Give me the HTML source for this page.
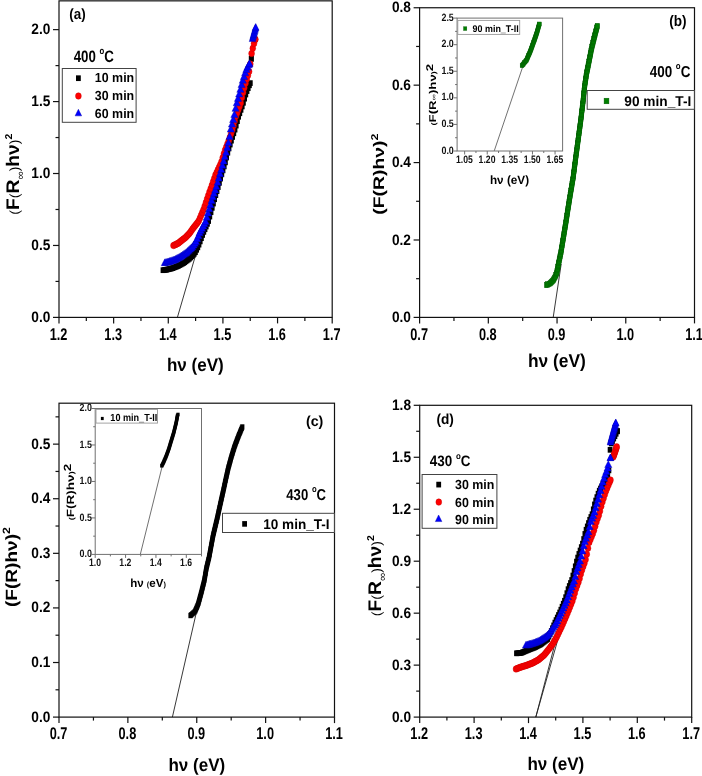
<!DOCTYPE html><html><head><meta charset="utf-8"><title>Tauc plots</title><style>html,body{margin:0;padding:0;background:#fff;}svg{display:block;will-change:transform;}text{font-family:"Liberation Sans",sans-serif;text-rendering:geometricPrecision;}</style></head><body>
<svg width="702" height="776" viewBox="0 0 702 776">
<rect width="702" height="776" fill="#fff"/>
<line x1="177.4" y1="317.4" x2="200" y2="240" stroke="#222" stroke-width="0.9" />
<g><rect x="160.6" y="267.35" width="4.8" height="5.7" fill="#000"/><rect x="161.8" y="267.18" width="4.8" height="5.7" fill="#000"/><rect x="163" y="267.01" width="4.8" height="5.7" fill="#000"/><rect x="164.2" y="266.83" width="4.8" height="5.7" fill="#000"/><rect x="165.4" y="266.53" width="4.8" height="5.7" fill="#000"/><rect x="166.6" y="266.24" width="4.8" height="5.7" fill="#000"/><rect x="167.8" y="265.94" width="4.8" height="5.7" fill="#000"/><rect x="169" y="265.65" width="4.8" height="5.7" fill="#000"/><rect x="170.2" y="265.29" width="4.8" height="5.7" fill="#000"/><rect x="171.4" y="264.82" width="4.8" height="5.7" fill="#000"/><rect x="172.6" y="264.34" width="4.8" height="5.7" fill="#000"/><rect x="173.8" y="263.86" width="4.8" height="5.7" fill="#000"/><rect x="175" y="263.39" width="4.8" height="5.7" fill="#000"/><rect x="176.2" y="262.83" width="4.8" height="5.7" fill="#000"/><rect x="177.4" y="262.19" width="4.8" height="5.7" fill="#000"/><rect x="178.6" y="261.54" width="4.8" height="5.7" fill="#000"/><rect x="179.8" y="260.9" width="4.8" height="5.7" fill="#000"/><rect x="181" y="260.26" width="4.8" height="5.7" fill="#000"/><rect x="182.2" y="259.41" width="4.8" height="5.7" fill="#000"/><rect x="183.4" y="258.53" width="4.8" height="5.7" fill="#000"/><rect x="184.6" y="257.64" width="4.8" height="5.7" fill="#000"/><rect x="185.8" y="256.76" width="4.8" height="5.7" fill="#000"/><rect x="187" y="255.85" width="4.8" height="5.7" fill="#000"/><rect x="188.2" y="254.63" width="4.8" height="5.7" fill="#000"/><rect x="189.4" y="253.41" width="4.8" height="5.7" fill="#000"/><rect x="190.6" y="252.19" width="4.8" height="5.7" fill="#000"/><rect x="191.8" y="250.96" width="4.8" height="5.7" fill="#000"/><rect x="193" y="249.35" width="4.8" height="5.7" fill="#000"/><rect x="194.2" y="246.95" width="4.8" height="5.7" fill="#000"/><rect x="195.4" y="244.55" width="4.8" height="5.7" fill="#000"/><rect x="196.6" y="241.8" width="4.8" height="5.7" fill="#000"/><rect x="197.8" y="238.57" width="4.8" height="5.7" fill="#000"/><rect x="199" y="235.34" width="4.8" height="5.7" fill="#000"/><rect x="200.2" y="232.11" width="4.8" height="5.7" fill="#000"/><rect x="201.4" y="229.06" width="4.8" height="5.7" fill="#000"/><rect x="202.6" y="226.37" width="4.8" height="5.7" fill="#000"/><rect x="203.8" y="223.69" width="4.8" height="5.7" fill="#000"/><rect x="205" y="221.01" width="4.8" height="5.7" fill="#000"/><rect x="206.2" y="218.18" width="4.8" height="5.7" fill="#000"/><rect x="207.4" y="213.77" width="4.8" height="5.7" fill="#000"/><rect x="208.6" y="209.36" width="4.8" height="5.7" fill="#000"/><rect x="209.8" y="205" width="4.8" height="5.7" fill="#000"/><rect x="211" y="200.69" width="4.8" height="5.7" fill="#000"/><rect x="212.2" y="196.39" width="4.8" height="5.7" fill="#000"/><rect x="213.4" y="192.27" width="4.8" height="5.7" fill="#000"/><rect x="214.6" y="188.24" width="4.8" height="5.7" fill="#000"/><rect x="215.8" y="184.22" width="4.8" height="5.7" fill="#000"/><rect x="217" y="179.99" width="4.8" height="5.7" fill="#000"/><rect x="218.2" y="175.71" width="4.8" height="5.7" fill="#000"/><rect x="219.4" y="171.49" width="4.8" height="5.7" fill="#000"/><rect x="220.6" y="167.53" width="4.8" height="5.7" fill="#000"/><rect x="221.8" y="163.58" width="4.8" height="5.7" fill="#000"/><rect x="223" y="159.54" width="4.8" height="5.7" fill="#000"/><rect x="224.2" y="154.66" width="4.8" height="5.7" fill="#000"/><rect x="225.4" y="149.77" width="4.8" height="5.7" fill="#000"/><rect x="226.6" y="145.62" width="4.8" height="5.7" fill="#000"/><rect x="227.8" y="141.71" width="4.8" height="5.7" fill="#000"/><rect x="229" y="137.8" width="4.8" height="5.7" fill="#000"/><rect x="230.2" y="134.1" width="4.8" height="5.7" fill="#000"/><rect x="231.4" y="130.44" width="4.8" height="5.7" fill="#000"/><rect x="232.6" y="126.78" width="4.8" height="5.7" fill="#000"/><rect x="233.8" y="122.74" width="4.8" height="5.7" fill="#000"/><rect x="235" y="118.33" width="4.8" height="5.7" fill="#000"/><rect x="236.2" y="113.92" width="4.8" height="5.7" fill="#000"/><rect x="237.4" y="110.43" width="4.8" height="5.7" fill="#000"/><rect x="238.6" y="107.02" width="4.8" height="5.7" fill="#000"/><rect x="239.8" y="103.62" width="4.8" height="5.7" fill="#000"/><rect x="241" y="99.97" width="4.8" height="5.7" fill="#000"/><rect x="242.2" y="95.82" width="4.8" height="5.7" fill="#000"/><rect x="243.4" y="91.68" width="4.8" height="5.7" fill="#000"/><rect x="244.6" y="88.25" width="4.8" height="5.7" fill="#000"/><rect x="245.8" y="85.34" width="4.8" height="5.7" fill="#000"/><rect x="247" y="82.43" width="4.8" height="5.7" fill="#000"/><rect x="247.9" y="80.25" width="4.8" height="5.7" fill="#000"/></g>
<g><rect x="248.9" y="55.95" width="4.8" height="5.7" fill="#000"/><rect x="248.9" y="55.85" width="4.8" height="5.7" fill="#000"/></g>
<g><ellipse cx="173.5" cy="245.5" rx="2.9" ry="3.25" fill="#f00" stroke="#c80000" stroke-width="0.45"/><ellipse cx="174.7" cy="244.94" rx="2.9" ry="3.25" fill="#f00" stroke="#c80000" stroke-width="0.45"/><ellipse cx="175.9" cy="244.38" rx="2.9" ry="3.25" fill="#f00" stroke="#c80000" stroke-width="0.45"/><ellipse cx="177.1" cy="243.82" rx="2.9" ry="3.25" fill="#f00" stroke="#c80000" stroke-width="0.45"/><ellipse cx="178.3" cy="243.16" rx="2.9" ry="3.25" fill="#f00" stroke="#c80000" stroke-width="0.45"/><ellipse cx="179.5" cy="242.2" rx="2.9" ry="3.25" fill="#f00" stroke="#c80000" stroke-width="0.45"/><ellipse cx="180.7" cy="241.24" rx="2.9" ry="3.25" fill="#f00" stroke="#c80000" stroke-width="0.45"/><ellipse cx="181.9" cy="240.3" rx="2.9" ry="3.25" fill="#f00" stroke="#c80000" stroke-width="0.45"/><ellipse cx="183.1" cy="239.37" rx="2.9" ry="3.25" fill="#f00" stroke="#c80000" stroke-width="0.45"/><ellipse cx="184.3" cy="238.43" rx="2.9" ry="3.25" fill="#f00" stroke="#c80000" stroke-width="0.45"/><ellipse cx="185.5" cy="237.5" rx="2.9" ry="3.25" fill="#f00" stroke="#c80000" stroke-width="0.45"/><ellipse cx="186.7" cy="236.25" rx="2.9" ry="3.25" fill="#f00" stroke="#c80000" stroke-width="0.45"/><ellipse cx="187.9" cy="234.99" rx="2.9" ry="3.25" fill="#f00" stroke="#c80000" stroke-width="0.45"/><ellipse cx="189.1" cy="233.74" rx="2.9" ry="3.25" fill="#f00" stroke="#c80000" stroke-width="0.45"/><ellipse cx="190.3" cy="232.34" rx="2.9" ry="3.25" fill="#f00" stroke="#c80000" stroke-width="0.45"/><ellipse cx="191.5" cy="230.52" rx="2.9" ry="3.25" fill="#f00" stroke="#c80000" stroke-width="0.45"/><ellipse cx="192.7" cy="228.75" rx="2.9" ry="3.25" fill="#f00" stroke="#c80000" stroke-width="0.45"/><ellipse cx="193.9" cy="227.23" rx="2.9" ry="3.25" fill="#f00" stroke="#c80000" stroke-width="0.45"/><ellipse cx="195.1" cy="225.71" rx="2.9" ry="3.25" fill="#f00" stroke="#c80000" stroke-width="0.45"/><ellipse cx="196.3" cy="224.19" rx="2.9" ry="3.25" fill="#f00" stroke="#c80000" stroke-width="0.45"/><ellipse cx="197.5" cy="222.67" rx="2.9" ry="3.25" fill="#f00" stroke="#c80000" stroke-width="0.45"/><ellipse cx="198.7" cy="220.93" rx="2.9" ry="3.25" fill="#f00" stroke="#c80000" stroke-width="0.45"/><ellipse cx="199.9" cy="218.14" rx="2.9" ry="3.25" fill="#f00" stroke="#c80000" stroke-width="0.45"/><ellipse cx="201.1" cy="215.35" rx="2.9" ry="3.25" fill="#f00" stroke="#c80000" stroke-width="0.45"/><ellipse cx="202.3" cy="212.56" rx="2.9" ry="3.25" fill="#f00" stroke="#c80000" stroke-width="0.45"/><ellipse cx="203.5" cy="209.7" rx="2.9" ry="3.25" fill="#f00" stroke="#c80000" stroke-width="0.45"/><ellipse cx="204.7" cy="206.13" rx="2.9" ry="3.25" fill="#f00" stroke="#c80000" stroke-width="0.45"/><ellipse cx="205.9" cy="202.56" rx="2.9" ry="3.25" fill="#f00" stroke="#c80000" stroke-width="0.45"/><ellipse cx="207.1" cy="198.99" rx="2.9" ry="3.25" fill="#f00" stroke="#c80000" stroke-width="0.45"/><ellipse cx="208.3" cy="195.52" rx="2.9" ry="3.25" fill="#f00" stroke="#c80000" stroke-width="0.45"/><ellipse cx="209.5" cy="192.1" rx="2.9" ry="3.25" fill="#f00" stroke="#c80000" stroke-width="0.45"/><ellipse cx="210.7" cy="188.68" rx="2.9" ry="3.25" fill="#f00" stroke="#c80000" stroke-width="0.45"/><ellipse cx="211.9" cy="185.26" rx="2.9" ry="3.25" fill="#f00" stroke="#c80000" stroke-width="0.45"/><ellipse cx="213.1" cy="181.84" rx="2.9" ry="3.25" fill="#f00" stroke="#c80000" stroke-width="0.45"/><ellipse cx="214.3" cy="178.42" rx="2.9" ry="3.25" fill="#f00" stroke="#c80000" stroke-width="0.45"/><ellipse cx="215.5" cy="175" rx="2.9" ry="3.25" fill="#f00" stroke="#c80000" stroke-width="0.45"/><ellipse cx="216.7" cy="172.43" rx="2.9" ry="3.25" fill="#f00" stroke="#c80000" stroke-width="0.45"/><ellipse cx="217.9" cy="169.86" rx="2.9" ry="3.25" fill="#f00" stroke="#c80000" stroke-width="0.45"/><ellipse cx="219.1" cy="167.29" rx="2.9" ry="3.25" fill="#f00" stroke="#c80000" stroke-width="0.45"/><ellipse cx="220.3" cy="164.73" rx="2.9" ry="3.25" fill="#f00" stroke="#c80000" stroke-width="0.45"/><ellipse cx="221.5" cy="161.79" rx="2.9" ry="3.25" fill="#f00" stroke="#c80000" stroke-width="0.45"/><ellipse cx="222.7" cy="157.77" rx="2.9" ry="3.25" fill="#f00" stroke="#c80000" stroke-width="0.45"/><ellipse cx="223.9" cy="153.75" rx="2.9" ry="3.25" fill="#f00" stroke="#c80000" stroke-width="0.45"/><ellipse cx="225.1" cy="150.1" rx="2.9" ry="3.25" fill="#f00" stroke="#c80000" stroke-width="0.45"/><ellipse cx="226.3" cy="147" rx="2.9" ry="3.25" fill="#f00" stroke="#c80000" stroke-width="0.45"/><ellipse cx="227.5" cy="143.89" rx="2.9" ry="3.25" fill="#f00" stroke="#c80000" stroke-width="0.45"/><ellipse cx="228.7" cy="140.78" rx="2.9" ry="3.25" fill="#f00" stroke="#c80000" stroke-width="0.45"/><ellipse cx="229.9" cy="137.25" rx="2.9" ry="3.25" fill="#f00" stroke="#c80000" stroke-width="0.45"/><ellipse cx="231.1" cy="133.6" rx="2.9" ry="3.25" fill="#f00" stroke="#c80000" stroke-width="0.45"/><ellipse cx="232.3" cy="129.93" rx="2.9" ry="3.25" fill="#f00" stroke="#c80000" stroke-width="0.45"/><ellipse cx="233.5" cy="125.76" rx="2.9" ry="3.25" fill="#f00" stroke="#c80000" stroke-width="0.45"/><ellipse cx="234.7" cy="120.88" rx="2.9" ry="3.25" fill="#f00" stroke="#c80000" stroke-width="0.45"/><ellipse cx="235.9" cy="116.13" rx="2.9" ry="3.25" fill="#f00" stroke="#c80000" stroke-width="0.45"/><ellipse cx="237.1" cy="112.95" rx="2.9" ry="3.25" fill="#f00" stroke="#c80000" stroke-width="0.45"/><ellipse cx="238.3" cy="109.77" rx="2.9" ry="3.25" fill="#f00" stroke="#c80000" stroke-width="0.45"/><ellipse cx="239.5" cy="106.59" rx="2.9" ry="3.25" fill="#f00" stroke="#c80000" stroke-width="0.45"/><ellipse cx="240.7" cy="102.88" rx="2.9" ry="3.25" fill="#f00" stroke="#c80000" stroke-width="0.45"/><ellipse cx="241.9" cy="97.62" rx="2.9" ry="3.25" fill="#f00" stroke="#c80000" stroke-width="0.45"/><ellipse cx="243.1" cy="92.42" rx="2.9" ry="3.25" fill="#f00" stroke="#c80000" stroke-width="0.45"/><ellipse cx="244.3" cy="87.86" rx="2.9" ry="3.25" fill="#f00" stroke="#c80000" stroke-width="0.45"/><ellipse cx="245.5" cy="83.3" rx="2.9" ry="3.25" fill="#f00" stroke="#c80000" stroke-width="0.45"/><ellipse cx="246.7" cy="79.18" rx="2.9" ry="3.25" fill="#f00" stroke="#c80000" stroke-width="0.45"/><ellipse cx="247.9" cy="75.38" rx="2.9" ry="3.25" fill="#f00" stroke="#c80000" stroke-width="0.45"/><ellipse cx="249.1" cy="71.58" rx="2.9" ry="3.25" fill="#f00" stroke="#c80000" stroke-width="0.45"/><ellipse cx="250.3" cy="64" rx="2.9" ry="3.25" fill="#f00" stroke="#c80000" stroke-width="0.45"/></g>
<g><ellipse cx="251.6" cy="53.5" rx="2.9" ry="3.25" fill="#f00" stroke="#c80000" stroke-width="0.45"/><ellipse cx="252.8" cy="48.34" rx="2.9" ry="3.25" fill="#f00" stroke="#c80000" stroke-width="0.45"/><ellipse cx="254" cy="43.58" rx="2.9" ry="3.25" fill="#f00" stroke="#c80000" stroke-width="0.45"/><ellipse cx="255.2" cy="39.63" rx="2.9" ry="3.25" fill="#f00" stroke="#c80000" stroke-width="0.45"/><ellipse cx="255.3" cy="39.3" rx="2.9" ry="3.25" fill="#f00" stroke="#c80000" stroke-width="0.45"/></g>
<g><path d="M164.8 258.86L168.35 265.66L161.25 265.66Z" fill="#00f" stroke="#0000b4" stroke-width="0.45"/><path d="M166 258.55L169.55 265.35L162.45 265.35Z" fill="#00f" stroke="#0000b4" stroke-width="0.45"/><path d="M167.2 258.23L170.75 265.03L163.65 265.03Z" fill="#00f" stroke="#0000b4" stroke-width="0.45"/><path d="M168.4 257.92L171.95 264.72L164.85 264.72Z" fill="#00f" stroke="#0000b4" stroke-width="0.45"/><path d="M169.6 257.59L173.15 264.39L166.05 264.39Z" fill="#00f" stroke="#0000b4" stroke-width="0.45"/><path d="M170.8 257.17L174.35 263.97L167.25 263.97Z" fill="#00f" stroke="#0000b4" stroke-width="0.45"/><path d="M172 256.75L175.55 263.55L168.45 263.55Z" fill="#00f" stroke="#0000b4" stroke-width="0.45"/><path d="M173.2 256.33L176.75 263.13L169.65 263.13Z" fill="#00f" stroke="#0000b4" stroke-width="0.45"/><path d="M174.4 255.91L177.95 262.71L170.85 262.71Z" fill="#00f" stroke="#0000b4" stroke-width="0.45"/><path d="M175.6 255.39L179.15 262.19L172.05 262.19Z" fill="#00f" stroke="#0000b4" stroke-width="0.45"/><path d="M176.8 254.74L180.35 261.54L173.25 261.54Z" fill="#00f" stroke="#0000b4" stroke-width="0.45"/><path d="M178 254.08L181.55 260.88L174.45 260.88Z" fill="#00f" stroke="#0000b4" stroke-width="0.45"/><path d="M179.2 253.43L182.75 260.23L175.65 260.23Z" fill="#00f" stroke="#0000b4" stroke-width="0.45"/><path d="M180.4 252.78L183.95 259.58L176.85 259.58Z" fill="#00f" stroke="#0000b4" stroke-width="0.45"/><path d="M181.6 252L185.15 258.8L178.05 258.8Z" fill="#00f" stroke="#0000b4" stroke-width="0.45"/><path d="M182.8 251.16L186.35 257.96L179.25 257.96Z" fill="#00f" stroke="#0000b4" stroke-width="0.45"/><path d="M184 250.31L187.55 257.11L180.45 257.11Z" fill="#00f" stroke="#0000b4" stroke-width="0.45"/><path d="M185.2 249.47L188.75 256.27L181.65 256.27Z" fill="#00f" stroke="#0000b4" stroke-width="0.45"/><path d="M186.4 248.63L189.95 255.43L182.85 255.43Z" fill="#00f" stroke="#0000b4" stroke-width="0.45"/><path d="M187.6 247.52L191.15 254.32L184.05 254.32Z" fill="#00f" stroke="#0000b4" stroke-width="0.45"/><path d="M188.8 246.38L192.35 253.18L185.25 253.18Z" fill="#00f" stroke="#0000b4" stroke-width="0.45"/><path d="M190 245.24L193.55 252.04L186.45 252.04Z" fill="#00f" stroke="#0000b4" stroke-width="0.45"/><path d="M191.2 244.11L194.75 250.91L187.65 250.91Z" fill="#00f" stroke="#0000b4" stroke-width="0.45"/><path d="M192.4 242.88L195.95 249.68L188.85 249.68Z" fill="#00f" stroke="#0000b4" stroke-width="0.45"/><path d="M193.6 241.17L197.15 247.97L190.05 247.97Z" fill="#00f" stroke="#0000b4" stroke-width="0.45"/><path d="M194.8 239.47L198.35 246.27L191.25 246.27Z" fill="#00f" stroke="#0000b4" stroke-width="0.45"/><path d="M196 237.76L199.55 244.56L192.45 244.56Z" fill="#00f" stroke="#0000b4" stroke-width="0.45"/><path d="M197.2 234.86L200.75 241.66L193.65 241.66Z" fill="#00f" stroke="#0000b4" stroke-width="0.45"/><path d="M198.4 231.96L201.95 238.76L194.85 238.76Z" fill="#00f" stroke="#0000b4" stroke-width="0.45"/><path d="M199.6 229.06L203.15 235.86L196.05 235.86Z" fill="#00f" stroke="#0000b4" stroke-width="0.45"/><path d="M200.8 226.78L204.35 233.58L197.25 233.58Z" fill="#00f" stroke="#0000b4" stroke-width="0.45"/><path d="M202 224.5L205.55 231.3L198.45 231.3Z" fill="#00f" stroke="#0000b4" stroke-width="0.45"/><path d="M203.2 222.22L206.75 229.02L199.65 229.02Z" fill="#00f" stroke="#0000b4" stroke-width="0.45"/><path d="M204.4 219.94L207.95 226.74L200.85 226.74Z" fill="#00f" stroke="#0000b4" stroke-width="0.45"/><path d="M205.6 217.66L209.15 224.46L202.05 224.46Z" fill="#00f" stroke="#0000b4" stroke-width="0.45"/><path d="M206.8 213.38L210.35 220.18L203.25 220.18Z" fill="#00f" stroke="#0000b4" stroke-width="0.45"/><path d="M208 209.11L211.55 215.91L204.45 215.91Z" fill="#00f" stroke="#0000b4" stroke-width="0.45"/><path d="M209.2 204.9L212.75 211.7L205.65 211.7Z" fill="#00f" stroke="#0000b4" stroke-width="0.45"/><path d="M210.4 200.84L213.95 207.64L206.85 207.64Z" fill="#00f" stroke="#0000b4" stroke-width="0.45"/><path d="M211.6 196.77L215.15 203.57L208.05 203.57Z" fill="#00f" stroke="#0000b4" stroke-width="0.45"/><path d="M212.8 192.92L216.35 199.72L209.25 199.72Z" fill="#00f" stroke="#0000b4" stroke-width="0.45"/><path d="M214 189.5L217.55 196.3L210.45 196.3Z" fill="#00f" stroke="#0000b4" stroke-width="0.45"/><path d="M215.2 186.08L218.75 192.88L211.65 192.88Z" fill="#00f" stroke="#0000b4" stroke-width="0.45"/><path d="M216.4 182.66L219.95 189.46L212.85 189.46Z" fill="#00f" stroke="#0000b4" stroke-width="0.45"/><path d="M217.6 178.38L221.15 185.18L214.05 185.18Z" fill="#00f" stroke="#0000b4" stroke-width="0.45"/><path d="M218.8 174.11L222.35 180.91L215.25 180.91Z" fill="#00f" stroke="#0000b4" stroke-width="0.45"/><path d="M220 169.87L223.55 176.67L216.45 176.67Z" fill="#00f" stroke="#0000b4" stroke-width="0.45"/><path d="M221.2 165.68L224.75 172.48L217.65 172.48Z" fill="#00f" stroke="#0000b4" stroke-width="0.45"/><path d="M222.4 161.5L225.95 168.3L218.85 168.3Z" fill="#00f" stroke="#0000b4" stroke-width="0.45"/><path d="M223.6 157.22L227.15 164.02L220.05 164.02Z" fill="#00f" stroke="#0000b4" stroke-width="0.45"/><path d="M224.8 152.81L228.35 159.61L221.25 159.61Z" fill="#00f" stroke="#0000b4" stroke-width="0.45"/><path d="M226 148.4L229.55 155.2L222.45 155.2Z" fill="#00f" stroke="#0000b4" stroke-width="0.45"/><path d="M227.2 143.59L230.75 150.39L223.65 150.39Z" fill="#00f" stroke="#0000b4" stroke-width="0.45"/><path d="M228.4 138.7L231.95 145.5L224.85 145.5Z" fill="#00f" stroke="#0000b4" stroke-width="0.45"/><path d="M229.6 132.6L233.15 139.4L226.05 139.4Z" fill="#00f" stroke="#0000b4" stroke-width="0.45"/><path d="M230.8 125.28L234.35 132.08L227.25 132.08Z" fill="#00f" stroke="#0000b4" stroke-width="0.45"/><path d="M232 120.26L235.55 127.06L228.45 127.06Z" fill="#00f" stroke="#0000b4" stroke-width="0.45"/><path d="M233.2 115.7L236.75 122.5L229.65 122.5Z" fill="#00f" stroke="#0000b4" stroke-width="0.45"/><path d="M234.4 110.63L237.95 117.43L230.85 117.43Z" fill="#00f" stroke="#0000b4" stroke-width="0.45"/><path d="M235.6 104.53L239.15 111.33L232.05 111.33Z" fill="#00f" stroke="#0000b4" stroke-width="0.45"/><path d="M236.8 98.99L240.35 105.79L233.25 105.79Z" fill="#00f" stroke="#0000b4" stroke-width="0.45"/><path d="M238 94.58L241.55 101.38L234.45 101.38Z" fill="#00f" stroke="#0000b4" stroke-width="0.45"/><path d="M239.2 90.16L242.75 96.96L235.65 96.96Z" fill="#00f" stroke="#0000b4" stroke-width="0.45"/><path d="M240.4 85.52L243.95 92.32L236.85 92.32Z" fill="#00f" stroke="#0000b4" stroke-width="0.45"/><path d="M241.6 80.8L245.15 87.6L238.05 87.6Z" fill="#00f" stroke="#0000b4" stroke-width="0.45"/><path d="M242.8 76.43L246.35 83.23L239.25 83.23Z" fill="#00f" stroke="#0000b4" stroke-width="0.45"/><path d="M244 72.73L247.55 79.53L240.45 79.53Z" fill="#00f" stroke="#0000b4" stroke-width="0.45"/><path d="M245.2 69.03L248.75 75.83L241.65 75.83Z" fill="#00f" stroke="#0000b4" stroke-width="0.45"/><path d="M246.4 65.68L249.95 72.48L242.85 72.48Z" fill="#00f" stroke="#0000b4" stroke-width="0.45"/><path d="M247.6 63.35L251.15 70.15L244.05 70.15Z" fill="#00f" stroke="#0000b4" stroke-width="0.45"/><path d="M248.8 61.02L252.35 67.82L245.25 67.82Z" fill="#00f" stroke="#0000b4" stroke-width="0.45"/><path d="M249.5 59.66L253.05 66.46L245.95 66.46Z" fill="#00f" stroke="#0000b4" stroke-width="0.45"/></g>
<g><path d="M252.5 34.97L255.75 41.57L249.25 41.57Z" fill="#00f" stroke="#0000b4" stroke-width="0.45"/><path d="M252.88 33.62L256.13 40.22L249.63 40.22Z" fill="#00f" stroke="#0000b4" stroke-width="0.45"/><path d="M253.26 32.27L256.51 38.87L250.01 38.87Z" fill="#00f" stroke="#0000b4" stroke-width="0.45"/><path d="M253.64 30.93L256.89 37.53L250.39 37.53Z" fill="#00f" stroke="#0000b4" stroke-width="0.45"/><path d="M254.02 29.58L257.27 36.18L250.77 36.18Z" fill="#00f" stroke="#0000b4" stroke-width="0.45"/><path d="M254.39 28.23L257.64 34.83L251.14 34.83Z" fill="#00f" stroke="#0000b4" stroke-width="0.45"/><path d="M254.77 26.88L258.02 33.48L251.52 33.48Z" fill="#00f" stroke="#0000b4" stroke-width="0.45"/><path d="M255.15 25.54L258.4 32.14L251.9 32.14Z" fill="#00f" stroke="#0000b4" stroke-width="0.45"/><path d="M255.53 24.19L258.78 30.79L252.28 30.79Z" fill="#00f" stroke="#0000b4" stroke-width="0.45"/><path d="M255.7 23.57L258.95 30.17L252.45 30.17Z" fill="#00f" stroke="#0000b4" stroke-width="0.45"/></g>
<rect x="59" y="0.85" width="273.2" height="316.55" fill="none" stroke="#111" stroke-width="1.2"/>
<line x1="86.32" y1="317.4" x2="86.32" y2="320.9" stroke="#111" stroke-width="1.2" />
<line x1="140.96" y1="317.4" x2="140.96" y2="320.9" stroke="#111" stroke-width="1.2" />
<line x1="195.6" y1="317.4" x2="195.6" y2="320.9" stroke="#111" stroke-width="1.2" />
<line x1="250.24" y1="317.4" x2="250.24" y2="320.9" stroke="#111" stroke-width="1.2" />
<line x1="304.88" y1="317.4" x2="304.88" y2="320.9" stroke="#111" stroke-width="1.2" />
<line x1="59" y1="317.4" x2="59" y2="323.4" stroke="#111" stroke-width="1.2" />
<line x1="113.64" y1="317.4" x2="113.64" y2="323.4" stroke="#111" stroke-width="1.2" />
<line x1="168.28" y1="317.4" x2="168.28" y2="323.4" stroke="#111" stroke-width="1.2" />
<line x1="222.92" y1="317.4" x2="222.92" y2="323.4" stroke="#111" stroke-width="1.2" />
<line x1="277.56" y1="317.4" x2="277.56" y2="323.4" stroke="#111" stroke-width="1.2" />
<line x1="332.2" y1="317.4" x2="332.2" y2="323.4" stroke="#111" stroke-width="1.2" />
<line x1="55.5" y1="281.43" x2="59" y2="281.43" stroke="#111" stroke-width="1.2" />
<line x1="55.5" y1="209.49" x2="59" y2="209.49" stroke="#111" stroke-width="1.2" />
<line x1="55.5" y1="137.54" x2="59" y2="137.54" stroke="#111" stroke-width="1.2" />
<line x1="55.5" y1="65.6" x2="59" y2="65.6" stroke="#111" stroke-width="1.2" />
<line x1="55.5" y1="-6.34" x2="59" y2="-6.34" stroke="#111" stroke-width="1.2" />
<line x1="53" y1="317.4" x2="59" y2="317.4" stroke="#111" stroke-width="1.2" />
<line x1="53" y1="245.46" x2="59" y2="245.46" stroke="#111" stroke-width="1.2" />
<line x1="53" y1="173.51" x2="59" y2="173.51" stroke="#111" stroke-width="1.2" />
<line x1="53" y1="101.57" x2="59" y2="101.57" stroke="#111" stroke-width="1.2" />
<line x1="53" y1="29.63" x2="59" y2="29.63" stroke="#111" stroke-width="1.2" />
<g id="t_A_x0" transform="translate(58.51,339.72) scale(0.8495,1.1304)"><text x="0" y="0" font-size="15" font-weight="bold" text-anchor="middle" fill="#000">1.2</text></g>
<g id="t_A_x1" transform="translate(113.15,339.72) scale(0.8495,1.1304)"><text x="0" y="0" font-size="15" font-weight="bold" text-anchor="middle" fill="#000">1.3</text></g>
<g id="t_A_x2" transform="translate(167.79,339.72) scale(0.8495,1.1304)"><text x="0" y="0" font-size="15" font-weight="bold" text-anchor="middle" fill="#000">1.4</text></g>
<g id="t_A_x3" transform="translate(222.43,339.72) scale(0.8495,1.1304)"><text x="0" y="0" font-size="15" font-weight="bold" text-anchor="middle" fill="#000">1.5</text></g>
<g id="t_A_x4" transform="translate(277.07,339.72) scale(0.8495,1.1304)"><text x="0" y="0" font-size="15" font-weight="bold" text-anchor="middle" fill="#000">1.6</text></g>
<g id="t_A_x5" transform="translate(331.71,339.72) scale(0.8495,1.1304)"><text x="0" y="0" font-size="15" font-weight="bold" text-anchor="middle" fill="#000">1.7</text></g>
<g id="t_A_y0" transform="translate(50.33,321.92) scale(0.9132,1.0083)"><text x="0" y="0" font-size="15" font-weight="bold" text-anchor="end" fill="#000">0.0</text></g>
<g id="t_A_y1" transform="translate(50.33,249.98) scale(0.9132,1.0083)"><text x="0" y="0" font-size="15" font-weight="bold" text-anchor="end" fill="#000">0.5</text></g>
<g id="t_A_y2" transform="translate(50.33,178.03) scale(0.9132,1.0083)"><text x="0" y="0" font-size="15" font-weight="bold" text-anchor="end" fill="#000">1.0</text></g>
<g id="t_A_y3" transform="translate(50.33,106.09) scale(0.9132,1.0083)"><text x="0" y="0" font-size="15" font-weight="bold" text-anchor="end" fill="#000">1.5</text></g>
<g id="t_A_y4" transform="translate(50.33,34.15) scale(0.9132,1.0083)"><text x="0" y="0" font-size="15" font-weight="bold" text-anchor="end" fill="#000">2.0</text></g>
<g id="t_A_tag" transform="translate(69.26,18.69) scale(0.8950,0.9976)"><text x="0" y="0" font-size="15" font-weight="bold" text-anchor="start" fill="#000">(a)</text></g>
<g id="t_A_temp" transform="translate(73.65,62.04) scale(0.9156,1.1378)"><text x="0" y="0" font-size="14.5" font-weight="bold" text-anchor="start" fill="#000">400 <tspan font-size="8.5" dy="-7">o</tspan><tspan dy="7">C</tspan></text></g>
<rect x="62.3" y="68.5" width="73.8" height="53.8" fill="none" stroke="#444" stroke-width="1"/>
<rect x="76" y="75.35" width="4.8" height="5.7" fill="#000"/>
<ellipse cx="78.4" cy="96" rx="2.9" ry="3.25" fill="#f00" stroke="#c80000" stroke-width="0.45"/>
<path d="M78.4 109.27L81.65 115.87L75.15 115.87Z" fill="#00f" stroke="#0000b4" stroke-width="0.45"/>
<g id="t_A_l1" transform="translate(94.83,82.31) scale(0.8869,0.9413)"><text x="0" y="0" font-size="14" font-weight="bold" text-anchor="start" fill="#000">10 min</text></g>
<g id="t_A_l2" transform="translate(94.83,99.91) scale(0.8869,0.9413)"><text x="0" y="0" font-size="14" font-weight="bold" text-anchor="start" fill="#000">30 min</text></g>
<g id="t_A_l3" transform="translate(94.83,117.71) scale(0.8869,0.9413)"><text x="0" y="0" font-size="14" font-weight="bold" text-anchor="start" fill="#000">60 min</text></g>
<g id="t_A_xl" transform="translate(195.36,371.21) scale(0.9220,0.9935)"><text x="0" y="0" font-size="18.5" font-weight="bold" text-anchor="middle" fill="#000">h&#957; (eV)</text></g>
<g id="t_A_yl" transform="translate(19.23,174.15) rotate(-90) scale(1.0549,0.9975)"><text x="0" y="0" font-size="18.3" font-weight="bold" text-anchor="middle" fill="#000"><tspan font-size="13.3" font-weight="normal">(</tspan>F<tspan font-size="13.3" font-weight="normal">(</tspan>R<tspan font-size="11" font-weight="normal" dy="4.7">&#8734;</tspan><tspan font-size="13.3" font-weight="normal" dy="-4.7">)</tspan>h&#957;<tspan font-size="13.3" font-weight="normal">)</tspan><tspan font-size="10" dy="-6.9">2</tspan></text></g>
<line x1="553.2" y1="317.4" x2="561.2" y2="264" stroke="#222" stroke-width="0.9" />
<g><rect x="544.4" y="282.3" width="4.2" height="5.4" fill="#008000" stroke="#005a00" stroke-width="0.45"/><rect x="545.69" y="281.75" width="4.2" height="5.4" fill="#008000" stroke="#005a00" stroke-width="0.45"/><rect x="546.97" y="281.2" width="4.2" height="5.4" fill="#008000" stroke="#005a00" stroke-width="0.45"/><rect x="548.18" y="280.52" width="4.2" height="5.4" fill="#008000" stroke="#005a00" stroke-width="0.45"/><rect x="549.17" y="279.53" width="4.2" height="5.4" fill="#008000" stroke="#005a00" stroke-width="0.45"/><rect x="550.16" y="278.54" width="4.2" height="5.4" fill="#008000" stroke="#005a00" stroke-width="0.45"/><rect x="551.15" y="277.55" width="4.2" height="5.4" fill="#008000" stroke="#005a00" stroke-width="0.45"/><rect x="551.87" y="276.37" width="4.2" height="5.4" fill="#008000" stroke="#005a00" stroke-width="0.45"/><rect x="552.49" y="275.12" width="4.2" height="5.4" fill="#008000" stroke="#005a00" stroke-width="0.45"/><rect x="553.12" y="273.86" width="4.2" height="5.4" fill="#008000" stroke="#005a00" stroke-width="0.45"/><rect x="553.74" y="272.61" width="4.2" height="5.4" fill="#008000" stroke="#005a00" stroke-width="0.45"/><rect x="554.37" y="271.36" width="4.2" height="5.4" fill="#008000" stroke="#005a00" stroke-width="0.45"/><rect x="554.66" y="269.99" width="4.2" height="5.4" fill="#008000" stroke="#005a00" stroke-width="0.45"/><rect x="554.94" y="268.62" width="4.2" height="5.4" fill="#008000" stroke="#005a00" stroke-width="0.45"/><rect x="555.21" y="267.25" width="4.2" height="5.4" fill="#008000" stroke="#005a00" stroke-width="0.45"/><rect x="555.49" y="265.87" width="4.2" height="5.4" fill="#008000" stroke="#005a00" stroke-width="0.45"/><rect x="555.76" y="264.5" width="4.2" height="5.4" fill="#008000" stroke="#005a00" stroke-width="0.45"/><rect x="556.03" y="263.13" width="4.2" height="5.4" fill="#008000" stroke="#005a00" stroke-width="0.45"/><rect x="556.31" y="261.75" width="4.2" height="5.4" fill="#008000" stroke="#005a00" stroke-width="0.45"/><rect x="556.59" y="260.38" width="4.2" height="5.4" fill="#008000" stroke="#005a00" stroke-width="0.45"/><rect x="556.88" y="259.01" width="4.2" height="5.4" fill="#008000" stroke="#005a00" stroke-width="0.45"/><rect x="557.17" y="257.64" width="4.2" height="5.4" fill="#008000" stroke="#005a00" stroke-width="0.45"/><rect x="557.46" y="256.27" width="4.2" height="5.4" fill="#008000" stroke="#005a00" stroke-width="0.45"/><rect x="557.74" y="254.9" width="4.2" height="5.4" fill="#008000" stroke="#005a00" stroke-width="0.45"/><rect x="558.03" y="253.53" width="4.2" height="5.4" fill="#008000" stroke="#005a00" stroke-width="0.45"/><rect x="558.32" y="252.16" width="4.2" height="5.4" fill="#008000" stroke="#005a00" stroke-width="0.45"/><rect x="558.61" y="250.79" width="4.2" height="5.4" fill="#008000" stroke="#005a00" stroke-width="0.45"/><rect x="558.88" y="249.42" width="4.2" height="5.4" fill="#008000" stroke="#005a00" stroke-width="0.45"/><rect x="559.11" y="248.04" width="4.2" height="5.4" fill="#008000" stroke="#005a00" stroke-width="0.45"/><rect x="559.34" y="246.66" width="4.2" height="5.4" fill="#008000" stroke="#005a00" stroke-width="0.45"/><rect x="559.57" y="245.28" width="4.2" height="5.4" fill="#008000" stroke="#005a00" stroke-width="0.45"/><rect x="559.79" y="243.9" width="4.2" height="5.4" fill="#008000" stroke="#005a00" stroke-width="0.45"/><rect x="560.02" y="242.51" width="4.2" height="5.4" fill="#008000" stroke="#005a00" stroke-width="0.45"/><rect x="560.25" y="241.13" width="4.2" height="5.4" fill="#008000" stroke="#005a00" stroke-width="0.45"/><rect x="560.48" y="239.75" width="4.2" height="5.4" fill="#008000" stroke="#005a00" stroke-width="0.45"/><rect x="560.71" y="238.37" width="4.2" height="5.4" fill="#008000" stroke="#005a00" stroke-width="0.45"/><rect x="560.94" y="236.99" width="4.2" height="5.4" fill="#008000" stroke="#005a00" stroke-width="0.45"/><rect x="561.16" y="235.61" width="4.2" height="5.4" fill="#008000" stroke="#005a00" stroke-width="0.45"/><rect x="561.39" y="234.23" width="4.2" height="5.4" fill="#008000" stroke="#005a00" stroke-width="0.45"/><rect x="561.62" y="232.85" width="4.2" height="5.4" fill="#008000" stroke="#005a00" stroke-width="0.45"/><rect x="561.85" y="231.46" width="4.2" height="5.4" fill="#008000" stroke="#005a00" stroke-width="0.45"/><rect x="562.08" y="230.08" width="4.2" height="5.4" fill="#008000" stroke="#005a00" stroke-width="0.45"/><rect x="562.31" y="228.7" width="4.2" height="5.4" fill="#008000" stroke="#005a00" stroke-width="0.45"/><rect x="562.54" y="227.32" width="4.2" height="5.4" fill="#008000" stroke="#005a00" stroke-width="0.45"/><rect x="562.76" y="225.94" width="4.2" height="5.4" fill="#008000" stroke="#005a00" stroke-width="0.45"/><rect x="562.99" y="224.56" width="4.2" height="5.4" fill="#008000" stroke="#005a00" stroke-width="0.45"/><rect x="563.22" y="223.18" width="4.2" height="5.4" fill="#008000" stroke="#005a00" stroke-width="0.45"/><rect x="563.45" y="221.8" width="4.2" height="5.4" fill="#008000" stroke="#005a00" stroke-width="0.45"/><rect x="563.66" y="220.41" width="4.2" height="5.4" fill="#008000" stroke="#005a00" stroke-width="0.45"/><rect x="563.88" y="219.03" width="4.2" height="5.4" fill="#008000" stroke="#005a00" stroke-width="0.45"/><rect x="564.09" y="217.65" width="4.2" height="5.4" fill="#008000" stroke="#005a00" stroke-width="0.45"/><rect x="564.31" y="216.26" width="4.2" height="5.4" fill="#008000" stroke="#005a00" stroke-width="0.45"/><rect x="564.53" y="214.88" width="4.2" height="5.4" fill="#008000" stroke="#005a00" stroke-width="0.45"/><rect x="564.74" y="213.5" width="4.2" height="5.4" fill="#008000" stroke="#005a00" stroke-width="0.45"/><rect x="564.96" y="212.11" width="4.2" height="5.4" fill="#008000" stroke="#005a00" stroke-width="0.45"/><rect x="565.17" y="210.73" width="4.2" height="5.4" fill="#008000" stroke="#005a00" stroke-width="0.45"/><rect x="565.39" y="209.35" width="4.2" height="5.4" fill="#008000" stroke="#005a00" stroke-width="0.45"/><rect x="565.6" y="207.96" width="4.2" height="5.4" fill="#008000" stroke="#005a00" stroke-width="0.45"/><rect x="565.82" y="206.58" width="4.2" height="5.4" fill="#008000" stroke="#005a00" stroke-width="0.45"/><rect x="566.04" y="205.2" width="4.2" height="5.4" fill="#008000" stroke="#005a00" stroke-width="0.45"/><rect x="566.26" y="203.81" width="4.2" height="5.4" fill="#008000" stroke="#005a00" stroke-width="0.45"/><rect x="566.48" y="202.43" width="4.2" height="5.4" fill="#008000" stroke="#005a00" stroke-width="0.45"/><rect x="566.7" y="201.05" width="4.2" height="5.4" fill="#008000" stroke="#005a00" stroke-width="0.45"/><rect x="566.92" y="199.67" width="4.2" height="5.4" fill="#008000" stroke="#005a00" stroke-width="0.45"/><rect x="567.14" y="198.28" width="4.2" height="5.4" fill="#008000" stroke="#005a00" stroke-width="0.45"/><rect x="567.36" y="196.9" width="4.2" height="5.4" fill="#008000" stroke="#005a00" stroke-width="0.45"/><rect x="567.59" y="195.52" width="4.2" height="5.4" fill="#008000" stroke="#005a00" stroke-width="0.45"/><rect x="567.81" y="194.14" width="4.2" height="5.4" fill="#008000" stroke="#005a00" stroke-width="0.45"/><rect x="568.03" y="192.75" width="4.2" height="5.4" fill="#008000" stroke="#005a00" stroke-width="0.45"/><rect x="568.26" y="191.37" width="4.2" height="5.4" fill="#008000" stroke="#005a00" stroke-width="0.45"/><rect x="568.49" y="189.99" width="4.2" height="5.4" fill="#008000" stroke="#005a00" stroke-width="0.45"/><rect x="568.72" y="188.61" width="4.2" height="5.4" fill="#008000" stroke="#005a00" stroke-width="0.45"/><rect x="568.96" y="187.23" width="4.2" height="5.4" fill="#008000" stroke="#005a00" stroke-width="0.45"/><rect x="569.19" y="185.85" width="4.2" height="5.4" fill="#008000" stroke="#005a00" stroke-width="0.45"/><rect x="569.43" y="184.47" width="4.2" height="5.4" fill="#008000" stroke="#005a00" stroke-width="0.45"/><rect x="569.66" y="183.09" width="4.2" height="5.4" fill="#008000" stroke="#005a00" stroke-width="0.45"/><rect x="569.89" y="181.71" width="4.2" height="5.4" fill="#008000" stroke="#005a00" stroke-width="0.45"/><rect x="570.13" y="180.33" width="4.2" height="5.4" fill="#008000" stroke="#005a00" stroke-width="0.45"/><rect x="570.36" y="178.95" width="4.2" height="5.4" fill="#008000" stroke="#005a00" stroke-width="0.45"/><rect x="570.6" y="177.57" width="4.2" height="5.4" fill="#008000" stroke="#005a00" stroke-width="0.45"/><rect x="570.83" y="176.19" width="4.2" height="5.4" fill="#008000" stroke="#005a00" stroke-width="0.45"/><rect x="571.06" y="174.81" width="4.2" height="5.4" fill="#008000" stroke="#005a00" stroke-width="0.45"/><rect x="571.25" y="173.42" width="4.2" height="5.4" fill="#008000" stroke="#005a00" stroke-width="0.45"/><rect x="571.43" y="172.03" width="4.2" height="5.4" fill="#008000" stroke="#005a00" stroke-width="0.45"/><rect x="571.61" y="170.65" width="4.2" height="5.4" fill="#008000" stroke="#005a00" stroke-width="0.45"/><rect x="571.79" y="169.26" width="4.2" height="5.4" fill="#008000" stroke="#005a00" stroke-width="0.45"/><rect x="571.97" y="167.87" width="4.2" height="5.4" fill="#008000" stroke="#005a00" stroke-width="0.45"/><rect x="572.15" y="166.48" width="4.2" height="5.4" fill="#008000" stroke="#005a00" stroke-width="0.45"/><rect x="572.33" y="165.09" width="4.2" height="5.4" fill="#008000" stroke="#005a00" stroke-width="0.45"/><rect x="572.51" y="163.7" width="4.2" height="5.4" fill="#008000" stroke="#005a00" stroke-width="0.45"/><rect x="572.69" y="162.32" width="4.2" height="5.4" fill="#008000" stroke="#005a00" stroke-width="0.45"/><rect x="572.87" y="160.93" width="4.2" height="5.4" fill="#008000" stroke="#005a00" stroke-width="0.45"/><rect x="573.05" y="159.54" width="4.2" height="5.4" fill="#008000" stroke="#005a00" stroke-width="0.45"/><rect x="573.23" y="158.15" width="4.2" height="5.4" fill="#008000" stroke="#005a00" stroke-width="0.45"/><rect x="573.41" y="156.76" width="4.2" height="5.4" fill="#008000" stroke="#005a00" stroke-width="0.45"/><rect x="573.59" y="155.37" width="4.2" height="5.4" fill="#008000" stroke="#005a00" stroke-width="0.45"/><rect x="573.78" y="153.99" width="4.2" height="5.4" fill="#008000" stroke="#005a00" stroke-width="0.45"/><rect x="573.96" y="152.6" width="4.2" height="5.4" fill="#008000" stroke="#005a00" stroke-width="0.45"/><rect x="574.15" y="151.21" width="4.2" height="5.4" fill="#008000" stroke="#005a00" stroke-width="0.45"/><rect x="574.34" y="149.82" width="4.2" height="5.4" fill="#008000" stroke="#005a00" stroke-width="0.45"/><rect x="574.52" y="148.44" width="4.2" height="5.4" fill="#008000" stroke="#005a00" stroke-width="0.45"/><rect x="574.71" y="147.05" width="4.2" height="5.4" fill="#008000" stroke="#005a00" stroke-width="0.45"/><rect x="574.9" y="145.66" width="4.2" height="5.4" fill="#008000" stroke="#005a00" stroke-width="0.45"/><rect x="575.09" y="144.27" width="4.2" height="5.4" fill="#008000" stroke="#005a00" stroke-width="0.45"/><rect x="575.27" y="142.89" width="4.2" height="5.4" fill="#008000" stroke="#005a00" stroke-width="0.45"/><rect x="575.46" y="141.5" width="4.2" height="5.4" fill="#008000" stroke="#005a00" stroke-width="0.45"/><rect x="575.65" y="140.11" width="4.2" height="5.4" fill="#008000" stroke="#005a00" stroke-width="0.45"/><rect x="575.83" y="138.72" width="4.2" height="5.4" fill="#008000" stroke="#005a00" stroke-width="0.45"/><rect x="576.02" y="137.34" width="4.2" height="5.4" fill="#008000" stroke="#005a00" stroke-width="0.45"/><rect x="576.21" y="135.95" width="4.2" height="5.4" fill="#008000" stroke="#005a00" stroke-width="0.45"/><rect x="576.39" y="134.56" width="4.2" height="5.4" fill="#008000" stroke="#005a00" stroke-width="0.45"/><rect x="576.58" y="133.17" width="4.2" height="5.4" fill="#008000" stroke="#005a00" stroke-width="0.45"/><rect x="576.76" y="131.79" width="4.2" height="5.4" fill="#008000" stroke="#005a00" stroke-width="0.45"/><rect x="576.95" y="130.4" width="4.2" height="5.4" fill="#008000" stroke="#005a00" stroke-width="0.45"/><rect x="577.14" y="129.01" width="4.2" height="5.4" fill="#008000" stroke="#005a00" stroke-width="0.45"/><rect x="577.32" y="127.62" width="4.2" height="5.4" fill="#008000" stroke="#005a00" stroke-width="0.45"/><rect x="577.51" y="126.24" width="4.2" height="5.4" fill="#008000" stroke="#005a00" stroke-width="0.45"/><rect x="577.69" y="124.85" width="4.2" height="5.4" fill="#008000" stroke="#005a00" stroke-width="0.45"/><rect x="577.88" y="123.46" width="4.2" height="5.4" fill="#008000" stroke="#005a00" stroke-width="0.45"/><rect x="578.07" y="122.07" width="4.2" height="5.4" fill="#008000" stroke="#005a00" stroke-width="0.45"/><rect x="578.25" y="120.69" width="4.2" height="5.4" fill="#008000" stroke="#005a00" stroke-width="0.45"/><rect x="578.44" y="119.3" width="4.2" height="5.4" fill="#008000" stroke="#005a00" stroke-width="0.45"/><rect x="578.62" y="117.91" width="4.2" height="5.4" fill="#008000" stroke="#005a00" stroke-width="0.45"/><rect x="578.81" y="116.52" width="4.2" height="5.4" fill="#008000" stroke="#005a00" stroke-width="0.45"/><rect x="578.97" y="115.13" width="4.2" height="5.4" fill="#008000" stroke="#005a00" stroke-width="0.45"/><rect x="579.14" y="113.74" width="4.2" height="5.4" fill="#008000" stroke="#005a00" stroke-width="0.45"/><rect x="579.31" y="112.35" width="4.2" height="5.4" fill="#008000" stroke="#005a00" stroke-width="0.45"/><rect x="579.47" y="110.96" width="4.2" height="5.4" fill="#008000" stroke="#005a00" stroke-width="0.45"/><rect x="579.64" y="109.57" width="4.2" height="5.4" fill="#008000" stroke="#005a00" stroke-width="0.45"/><rect x="579.8" y="108.18" width="4.2" height="5.4" fill="#008000" stroke="#005a00" stroke-width="0.45"/><rect x="579.97" y="106.79" width="4.2" height="5.4" fill="#008000" stroke="#005a00" stroke-width="0.45"/><rect x="580.13" y="105.4" width="4.2" height="5.4" fill="#008000" stroke="#005a00" stroke-width="0.45"/><rect x="580.3" y="104.01" width="4.2" height="5.4" fill="#008000" stroke="#005a00" stroke-width="0.45"/><rect x="580.47" y="102.62" width="4.2" height="5.4" fill="#008000" stroke="#005a00" stroke-width="0.45"/><rect x="580.63" y="101.23" width="4.2" height="5.4" fill="#008000" stroke="#005a00" stroke-width="0.45"/><rect x="580.8" y="99.84" width="4.2" height="5.4" fill="#008000" stroke="#005a00" stroke-width="0.45"/><rect x="580.96" y="98.45" width="4.2" height="5.4" fill="#008000" stroke="#005a00" stroke-width="0.45"/><rect x="581.12" y="97.06" width="4.2" height="5.4" fill="#008000" stroke="#005a00" stroke-width="0.45"/><rect x="581.27" y="95.67" width="4.2" height="5.4" fill="#008000" stroke="#005a00" stroke-width="0.45"/><rect x="581.41" y="94.27" width="4.2" height="5.4" fill="#008000" stroke="#005a00" stroke-width="0.45"/><rect x="581.55" y="92.88" width="4.2" height="5.4" fill="#008000" stroke="#005a00" stroke-width="0.45"/><rect x="581.69" y="91.49" width="4.2" height="5.4" fill="#008000" stroke="#005a00" stroke-width="0.45"/><rect x="581.84" y="90.1" width="4.2" height="5.4" fill="#008000" stroke="#005a00" stroke-width="0.45"/><rect x="581.98" y="88.7" width="4.2" height="5.4" fill="#008000" stroke="#005a00" stroke-width="0.45"/><rect x="582.12" y="87.31" width="4.2" height="5.4" fill="#008000" stroke="#005a00" stroke-width="0.45"/><rect x="582.27" y="85.92" width="4.2" height="5.4" fill="#008000" stroke="#005a00" stroke-width="0.45"/><rect x="582.41" y="84.53" width="4.2" height="5.4" fill="#008000" stroke="#005a00" stroke-width="0.45"/><rect x="582.61" y="83.14" width="4.2" height="5.4" fill="#008000" stroke="#005a00" stroke-width="0.45"/><rect x="582.82" y="81.76" width="4.2" height="5.4" fill="#008000" stroke="#005a00" stroke-width="0.45"/><rect x="583.02" y="80.37" width="4.2" height="5.4" fill="#008000" stroke="#005a00" stroke-width="0.45"/><rect x="583.23" y="78.99" width="4.2" height="5.4" fill="#008000" stroke="#005a00" stroke-width="0.45"/><rect x="583.43" y="77.6" width="4.2" height="5.4" fill="#008000" stroke="#005a00" stroke-width="0.45"/><rect x="583.63" y="76.22" width="4.2" height="5.4" fill="#008000" stroke="#005a00" stroke-width="0.45"/><rect x="583.84" y="74.83" width="4.2" height="5.4" fill="#008000" stroke="#005a00" stroke-width="0.45"/><rect x="584.04" y="73.44" width="4.2" height="5.4" fill="#008000" stroke="#005a00" stroke-width="0.45"/><rect x="584.25" y="72.06" width="4.2" height="5.4" fill="#008000" stroke="#005a00" stroke-width="0.45"/><rect x="584.5" y="70.68" width="4.2" height="5.4" fill="#008000" stroke="#005a00" stroke-width="0.45"/><rect x="584.78" y="69.31" width="4.2" height="5.4" fill="#008000" stroke="#005a00" stroke-width="0.45"/><rect x="585.06" y="67.94" width="4.2" height="5.4" fill="#008000" stroke="#005a00" stroke-width="0.45"/><rect x="585.33" y="66.57" width="4.2" height="5.4" fill="#008000" stroke="#005a00" stroke-width="0.45"/><rect x="585.61" y="65.19" width="4.2" height="5.4" fill="#008000" stroke="#005a00" stroke-width="0.45"/><rect x="585.89" y="63.82" width="4.2" height="5.4" fill="#008000" stroke="#005a00" stroke-width="0.45"/><rect x="586.16" y="62.45" width="4.2" height="5.4" fill="#008000" stroke="#005a00" stroke-width="0.45"/><rect x="586.44" y="61.08" width="4.2" height="5.4" fill="#008000" stroke="#005a00" stroke-width="0.45"/><rect x="586.72" y="59.7" width="4.2" height="5.4" fill="#008000" stroke="#005a00" stroke-width="0.45"/><rect x="586.99" y="58.33" width="4.2" height="5.4" fill="#008000" stroke="#005a00" stroke-width="0.45"/><rect x="587.26" y="56.96" width="4.2" height="5.4" fill="#008000" stroke="#005a00" stroke-width="0.45"/><rect x="587.53" y="55.58" width="4.2" height="5.4" fill="#008000" stroke="#005a00" stroke-width="0.45"/><rect x="587.8" y="54.21" width="4.2" height="5.4" fill="#008000" stroke="#005a00" stroke-width="0.45"/><rect x="588.06" y="52.84" width="4.2" height="5.4" fill="#008000" stroke="#005a00" stroke-width="0.45"/><rect x="588.33" y="51.46" width="4.2" height="5.4" fill="#008000" stroke="#005a00" stroke-width="0.45"/><rect x="588.6" y="50.09" width="4.2" height="5.4" fill="#008000" stroke="#005a00" stroke-width="0.45"/><rect x="588.87" y="48.71" width="4.2" height="5.4" fill="#008000" stroke="#005a00" stroke-width="0.45"/><rect x="589.14" y="47.34" width="4.2" height="5.4" fill="#008000" stroke="#005a00" stroke-width="0.45"/><rect x="589.41" y="45.97" width="4.2" height="5.4" fill="#008000" stroke="#005a00" stroke-width="0.45"/><rect x="589.75" y="44.61" width="4.2" height="5.4" fill="#008000" stroke="#005a00" stroke-width="0.45"/><rect x="590.08" y="43.25" width="4.2" height="5.4" fill="#008000" stroke="#005a00" stroke-width="0.45"/><rect x="590.42" y="41.89" width="4.2" height="5.4" fill="#008000" stroke="#005a00" stroke-width="0.45"/><rect x="590.76" y="40.53" width="4.2" height="5.4" fill="#008000" stroke="#005a00" stroke-width="0.45"/><rect x="591.09" y="39.17" width="4.2" height="5.4" fill="#008000" stroke="#005a00" stroke-width="0.45"/><rect x="591.43" y="37.81" width="4.2" height="5.4" fill="#008000" stroke="#005a00" stroke-width="0.45"/><rect x="591.77" y="36.45" width="4.2" height="5.4" fill="#008000" stroke="#005a00" stroke-width="0.45"/><rect x="592.1" y="35.1" width="4.2" height="5.4" fill="#008000" stroke="#005a00" stroke-width="0.45"/><rect x="592.44" y="33.74" width="4.2" height="5.4" fill="#008000" stroke="#005a00" stroke-width="0.45"/><rect x="592.79" y="32.38" width="4.2" height="5.4" fill="#008000" stroke="#005a00" stroke-width="0.45"/><rect x="593.15" y="31.03" width="4.2" height="5.4" fill="#008000" stroke="#005a00" stroke-width="0.45"/><rect x="593.51" y="29.67" width="4.2" height="5.4" fill="#008000" stroke="#005a00" stroke-width="0.45"/><rect x="593.87" y="28.32" width="4.2" height="5.4" fill="#008000" stroke="#005a00" stroke-width="0.45"/><rect x="594.23" y="26.97" width="4.2" height="5.4" fill="#008000" stroke="#005a00" stroke-width="0.45"/><rect x="594.59" y="25.61" width="4.2" height="5.4" fill="#008000" stroke="#005a00" stroke-width="0.45"/><rect x="594.94" y="24.26" width="4.2" height="5.4" fill="#008000" stroke="#005a00" stroke-width="0.45"/><rect x="595.2" y="23.3" width="4.2" height="5.4" fill="#008000" stroke="#005a00" stroke-width="0.45"/></g>
<rect x="419.6" y="7.75" width="274.9" height="309.65" fill="none" stroke="#111" stroke-width="1.2"/>
<line x1="453.96" y1="317.4" x2="453.96" y2="320.9" stroke="#111" stroke-width="1.2" />
<line x1="522.69" y1="317.4" x2="522.69" y2="320.9" stroke="#111" stroke-width="1.2" />
<line x1="591.41" y1="317.4" x2="591.41" y2="320.9" stroke="#111" stroke-width="1.2" />
<line x1="660.14" y1="317.4" x2="660.14" y2="320.9" stroke="#111" stroke-width="1.2" />
<line x1="419.6" y1="317.4" x2="419.6" y2="323.4" stroke="#111" stroke-width="1.2" />
<line x1="488.32" y1="317.4" x2="488.32" y2="323.4" stroke="#111" stroke-width="1.2" />
<line x1="557.05" y1="317.4" x2="557.05" y2="323.4" stroke="#111" stroke-width="1.2" />
<line x1="625.77" y1="317.4" x2="625.77" y2="323.4" stroke="#111" stroke-width="1.2" />
<line x1="694.5" y1="317.4" x2="694.5" y2="323.4" stroke="#111" stroke-width="1.2" />
<line x1="416.1" y1="278.69" x2="419.6" y2="278.69" stroke="#111" stroke-width="1.2" />
<line x1="416.1" y1="201.28" x2="419.6" y2="201.28" stroke="#111" stroke-width="1.2" />
<line x1="416.1" y1="123.87" x2="419.6" y2="123.87" stroke="#111" stroke-width="1.2" />
<line x1="416.1" y1="46.46" x2="419.6" y2="46.46" stroke="#111" stroke-width="1.2" />
<line x1="413.6" y1="317.4" x2="419.6" y2="317.4" stroke="#111" stroke-width="1.2" />
<line x1="413.6" y1="239.99" x2="419.6" y2="239.99" stroke="#111" stroke-width="1.2" />
<line x1="413.6" y1="162.57" x2="419.6" y2="162.57" stroke="#111" stroke-width="1.2" />
<line x1="413.6" y1="85.16" x2="419.6" y2="85.16" stroke="#111" stroke-width="1.2" />
<line x1="413.6" y1="7.75" x2="419.6" y2="7.75" stroke="#111" stroke-width="1.2" />
<g id="t_B_x0" transform="translate(419.11,339.72) scale(0.8495,1.1304)"><text x="0" y="0" font-size="15" font-weight="bold" text-anchor="middle" fill="#000">0.7</text></g>
<g id="t_B_x1" transform="translate(487.83,339.72) scale(0.8495,1.1304)"><text x="0" y="0" font-size="15" font-weight="bold" text-anchor="middle" fill="#000">0.8</text></g>
<g id="t_B_x2" transform="translate(556.56,339.72) scale(0.8495,1.1304)"><text x="0" y="0" font-size="15" font-weight="bold" text-anchor="middle" fill="#000">0.9</text></g>
<g id="t_B_x3" transform="translate(625.28,339.72) scale(0.8495,1.1304)"><text x="0" y="0" font-size="15" font-weight="bold" text-anchor="middle" fill="#000">1.0</text></g>
<g id="t_B_x4" transform="translate(694.01,339.72) scale(0.8495,1.1304)"><text x="0" y="0" font-size="15" font-weight="bold" text-anchor="middle" fill="#000">1.1</text></g>
<g id="t_B_y0" transform="translate(410.93,321.92) scale(0.9132,1.0083)"><text x="0" y="0" font-size="15" font-weight="bold" text-anchor="end" fill="#000">0.0</text></g>
<g id="t_B_y1" transform="translate(410.93,244.51) scale(0.9132,1.0083)"><text x="0" y="0" font-size="15" font-weight="bold" text-anchor="end" fill="#000">0.2</text></g>
<g id="t_B_y2" transform="translate(410.93,167.1) scale(0.9132,1.0083)"><text x="0" y="0" font-size="15" font-weight="bold" text-anchor="end" fill="#000">0.4</text></g>
<g id="t_B_y3" transform="translate(410.93,89.68) scale(0.9132,1.0083)"><text x="0" y="0" font-size="15" font-weight="bold" text-anchor="end" fill="#000">0.6</text></g>
<g id="t_B_y4" transform="translate(410.93,12.27) scale(0.9132,1.0083)"><text x="0" y="0" font-size="15" font-weight="bold" text-anchor="end" fill="#000">0.8</text></g>
<g id="t_B_tag" transform="translate(669.29,26.22) scale(0.9055,1.0116)"><text x="0" y="0" font-size="15" font-weight="bold" text-anchor="start" fill="#000">(b)</text></g>
<g id="t_B_temp" transform="translate(649.69,77.02) scale(0.9266,1.0943)"><text x="0" y="0" font-size="14.5" font-weight="bold" text-anchor="start" fill="#000">400 <tspan font-size="8.5" dy="-7">o</tspan><tspan dy="7">C</tspan></text></g>
<rect x="587.2" y="90.5" width="107.3" height="18.8" fill="none" stroke="#444" stroke-width="1"/>
<rect x="604.1" y="98.2" width="4.8" height="5.6" fill="#008000" stroke="#005a00" stroke-width="0.45"/>
<g id="t_B_leg" transform="translate(624.33,106.1) scale(0.9119,0.9417)"><text x="0" y="0" font-size="15" font-weight="bold" text-anchor="start" fill="#000">90 min<tspan class="us">_</tspan>T-I</text></g>
<g id="t_B_xl" transform="translate(556.85,367.06) scale(0.9383,1.0108)"><text x="0" y="0" font-size="18.5" font-weight="bold" text-anchor="middle" fill="#000">h&#957; (eV)</text></g>
<g id="t_B_yl" transform="translate(384.24,174.09) rotate(-90) scale(1.0456,0.8270)"><text x="0" y="0" font-size="18.5" font-weight="bold" text-anchor="middle" fill="#000">(F(R)h&#957;)<tspan font-size="12" dy="-8">2</tspan></text></g>
<rect x="457.1" y="18.1" width="105.5" height="132.9" fill="#fff"/>
<line x1="494.2" y1="151" x2="524" y2="63" stroke="#333" stroke-width="0.7" />
<g><rect x="520.2" y="63.7" width="3.6" height="4" fill="#008000" stroke="#005a00" stroke-width="0.45"/><rect x="520.83" y="62.92" width="3.6" height="4" fill="#008000" stroke="#005a00" stroke-width="0.45"/><rect x="521.46" y="62.15" width="3.6" height="4" fill="#008000" stroke="#005a00" stroke-width="0.45"/><rect x="522.09" y="61.37" width="3.6" height="4" fill="#008000" stroke="#005a00" stroke-width="0.45"/><rect x="522.72" y="60.59" width="3.6" height="4" fill="#008000" stroke="#005a00" stroke-width="0.45"/><rect x="523.35" y="59.82" width="3.6" height="4" fill="#008000" stroke="#005a00" stroke-width="0.45"/><rect x="523.98" y="59.04" width="3.6" height="4" fill="#008000" stroke="#005a00" stroke-width="0.45"/><rect x="524.61" y="58.26" width="3.6" height="4" fill="#008000" stroke="#005a00" stroke-width="0.45"/><rect x="525.11" y="57.41" width="3.6" height="4" fill="#008000" stroke="#005a00" stroke-width="0.45"/><rect x="525.49" y="56.48" width="3.6" height="4" fill="#008000" stroke="#005a00" stroke-width="0.45"/><rect x="525.88" y="55.56" width="3.6" height="4" fill="#008000" stroke="#005a00" stroke-width="0.45"/><rect x="526.27" y="54.64" width="3.6" height="4" fill="#008000" stroke="#005a00" stroke-width="0.45"/><rect x="526.66" y="53.72" width="3.6" height="4" fill="#008000" stroke="#005a00" stroke-width="0.45"/><rect x="527.04" y="52.8" width="3.6" height="4" fill="#008000" stroke="#005a00" stroke-width="0.45"/><rect x="527.43" y="51.87" width="3.6" height="4" fill="#008000" stroke="#005a00" stroke-width="0.45"/><rect x="527.82" y="50.95" width="3.6" height="4" fill="#008000" stroke="#005a00" stroke-width="0.45"/><rect x="528.2" y="50.03" width="3.6" height="4" fill="#008000" stroke="#005a00" stroke-width="0.45"/><rect x="528.56" y="49.1" width="3.6" height="4" fill="#008000" stroke="#005a00" stroke-width="0.45"/><rect x="528.92" y="48.16" width="3.6" height="4" fill="#008000" stroke="#005a00" stroke-width="0.45"/><rect x="529.27" y="47.23" width="3.6" height="4" fill="#008000" stroke="#005a00" stroke-width="0.45"/><rect x="529.62" y="46.29" width="3.6" height="4" fill="#008000" stroke="#005a00" stroke-width="0.45"/><rect x="529.97" y="45.35" width="3.6" height="4" fill="#008000" stroke="#005a00" stroke-width="0.45"/><rect x="530.33" y="44.42" width="3.6" height="4" fill="#008000" stroke="#005a00" stroke-width="0.45"/><rect x="530.68" y="43.48" width="3.6" height="4" fill="#008000" stroke="#005a00" stroke-width="0.45"/><rect x="531.03" y="42.55" width="3.6" height="4" fill="#008000" stroke="#005a00" stroke-width="0.45"/><rect x="531.38" y="41.61" width="3.6" height="4" fill="#008000" stroke="#005a00" stroke-width="0.45"/><rect x="531.73" y="40.67" width="3.6" height="4" fill="#008000" stroke="#005a00" stroke-width="0.45"/><rect x="532.06" y="39.73" width="3.6" height="4" fill="#008000" stroke="#005a00" stroke-width="0.45"/><rect x="532.37" y="38.78" width="3.6" height="4" fill="#008000" stroke="#005a00" stroke-width="0.45"/><rect x="532.69" y="37.83" width="3.6" height="4" fill="#008000" stroke="#005a00" stroke-width="0.45"/><rect x="533.01" y="36.88" width="3.6" height="4" fill="#008000" stroke="#005a00" stroke-width="0.45"/><rect x="533.32" y="35.93" width="3.6" height="4" fill="#008000" stroke="#005a00" stroke-width="0.45"/><rect x="533.64" y="34.99" width="3.6" height="4" fill="#008000" stroke="#005a00" stroke-width="0.45"/><rect x="533.95" y="34.04" width="3.6" height="4" fill="#008000" stroke="#005a00" stroke-width="0.45"/><rect x="534.27" y="33.09" width="3.6" height="4" fill="#008000" stroke="#005a00" stroke-width="0.45"/><rect x="534.59" y="32.14" width="3.6" height="4" fill="#008000" stroke="#005a00" stroke-width="0.45"/><rect x="534.9" y="31.19" width="3.6" height="4" fill="#008000" stroke="#005a00" stroke-width="0.45"/><rect x="535.22" y="30.24" width="3.6" height="4" fill="#008000" stroke="#005a00" stroke-width="0.45"/><rect x="535.51" y="29.28" width="3.6" height="4" fill="#008000" stroke="#005a00" stroke-width="0.45"/><rect x="535.78" y="28.32" width="3.6" height="4" fill="#008000" stroke="#005a00" stroke-width="0.45"/><rect x="536.06" y="27.36" width="3.6" height="4" fill="#008000" stroke="#005a00" stroke-width="0.45"/><rect x="536.33" y="26.4" width="3.6" height="4" fill="#008000" stroke="#005a00" stroke-width="0.45"/><rect x="536.61" y="25.44" width="3.6" height="4" fill="#008000" stroke="#005a00" stroke-width="0.45"/><rect x="536.89" y="24.48" width="3.6" height="4" fill="#008000" stroke="#005a00" stroke-width="0.45"/><rect x="537.16" y="23.52" width="3.6" height="4" fill="#008000" stroke="#005a00" stroke-width="0.45"/><rect x="537.44" y="22.56" width="3.6" height="4" fill="#008000" stroke="#005a00" stroke-width="0.45"/><rect x="537.6" y="22" width="3.6" height="4" fill="#008000" stroke="#005a00" stroke-width="0.45"/></g>
<rect x="457.1" y="18.1" width="105.5" height="132.9" fill="none" stroke="#707070" stroke-width="1"/>
<line x1="475.94" y1="151" x2="475.94" y2="153" stroke="#707070" stroke-width="1" />
<line x1="498.55" y1="151" x2="498.55" y2="153" stroke="#707070" stroke-width="1" />
<line x1="521.15" y1="151" x2="521.15" y2="153" stroke="#707070" stroke-width="1" />
<line x1="543.76" y1="151" x2="543.76" y2="153" stroke="#707070" stroke-width="1" />
<line x1="464.64" y1="151" x2="464.64" y2="154.5" stroke="#707070" stroke-width="1" />
<line x1="487.24" y1="151" x2="487.24" y2="154.5" stroke="#707070" stroke-width="1" />
<line x1="509.85" y1="151" x2="509.85" y2="154.5" stroke="#707070" stroke-width="1" />
<line x1="532.46" y1="151" x2="532.46" y2="154.5" stroke="#707070" stroke-width="1" />
<line x1="555.06" y1="151" x2="555.06" y2="154.5" stroke="#707070" stroke-width="1" />
<line x1="455.1" y1="137.71" x2="457.1" y2="137.71" stroke="#707070" stroke-width="1" />
<line x1="455.1" y1="111.13" x2="457.1" y2="111.13" stroke="#707070" stroke-width="1" />
<line x1="455.1" y1="84.55" x2="457.1" y2="84.55" stroke="#707070" stroke-width="1" />
<line x1="455.1" y1="57.97" x2="457.1" y2="57.97" stroke="#707070" stroke-width="1" />
<line x1="455.1" y1="31.39" x2="457.1" y2="31.39" stroke="#707070" stroke-width="1" />
<line x1="453.6" y1="151" x2="457.1" y2="151" stroke="#707070" stroke-width="1" />
<line x1="453.6" y1="124.42" x2="457.1" y2="124.42" stroke="#707070" stroke-width="1" />
<line x1="453.6" y1="97.84" x2="457.1" y2="97.84" stroke="#707070" stroke-width="1" />
<line x1="453.6" y1="71.26" x2="457.1" y2="71.26" stroke="#707070" stroke-width="1" />
<line x1="453.6" y1="44.68" x2="457.1" y2="44.68" stroke="#707070" stroke-width="1" />
<line x1="453.6" y1="18.1" x2="457.1" y2="18.1" stroke="#707070" stroke-width="1" />
<g id="t_BI_x0" transform="translate(464.43,162.95) scale(0.9612,1.1999)"><text x="0" y="0" font-size="9" font-weight="bold" text-anchor="middle" fill="#111">1.05</text></g>
<g id="t_BI_x1" transform="translate(487.03,162.95) scale(0.9612,1.1999)"><text x="0" y="0" font-size="9" font-weight="bold" text-anchor="middle" fill="#111">1.20</text></g>
<g id="t_BI_x2" transform="translate(509.64,162.95) scale(0.9612,1.1999)"><text x="0" y="0" font-size="9" font-weight="bold" text-anchor="middle" fill="#111">1.35</text></g>
<g id="t_BI_x3" transform="translate(532.25,162.95) scale(0.9612,1.1999)"><text x="0" y="0" font-size="9" font-weight="bold" text-anchor="middle" fill="#111">1.50</text></g>
<g id="t_BI_x4" transform="translate(554.86,162.95) scale(0.9612,1.1999)"><text x="0" y="0" font-size="9" font-weight="bold" text-anchor="middle" fill="#111">1.65</text></g>
<g id="t_BI_y0" transform="translate(453.83,153.6) scale(0.9893,1.1792)"><text x="0" y="0" font-size="9" font-weight="bold" text-anchor="end" fill="#111">0.0</text></g>
<g id="t_BI_y1" transform="translate(453.83,127.02) scale(0.9893,1.1792)"><text x="0" y="0" font-size="9" font-weight="bold" text-anchor="end" fill="#111">0.5</text></g>
<g id="t_BI_y2" transform="translate(453.83,100.44) scale(0.9893,1.1792)"><text x="0" y="0" font-size="9" font-weight="bold" text-anchor="end" fill="#111">1.0</text></g>
<g id="t_BI_y3" transform="translate(453.83,73.86) scale(0.9893,1.1792)"><text x="0" y="0" font-size="9" font-weight="bold" text-anchor="end" fill="#111">1.5</text></g>
<g id="t_BI_y4" transform="translate(453.83,47.28) scale(0.9893,1.1792)"><text x="0" y="0" font-size="9" font-weight="bold" text-anchor="end" fill="#111">2.0</text></g>
<g id="t_BI_y5" transform="translate(453.83,20.7) scale(0.9893,1.1792)"><text x="0" y="0" font-size="9" font-weight="bold" text-anchor="end" fill="#111">2.5</text></g>
<rect x="457.8" y="20.4" width="61.9" height="14" fill="none" stroke="#999" stroke-width="0.9"/>
<rect x="463.6" y="26.8" width="3.2" height="3.6" fill="#008000" stroke="#005a00" stroke-width="0.45"/>
<g id="t_BI_leg" transform="translate(472.62,31.61) scale(0.8487,0.9257)"><text x="0" y="0" font-size="10.5" font-weight="bold" text-anchor="start" fill="#000">90 min<tspan class="us">_</tspan>T-II</text></g>
<g id="t_BI_xl" transform="translate(509.51,184.31) scale(0.9783,0.9956)"><text x="0" y="0" font-size="12" font-weight="bold" text-anchor="middle" fill="#000">h&#957; (eV)</text></g>
<g id="t_BI_yl" transform="translate(435.5,94.66) rotate(-90) scale(1.1192,0.8333)"><text x="0" y="0" font-size="11.8" font-weight="bold" text-anchor="middle" fill="#000"><tspan font-size="8">(</tspan>F(R<tspan font-size="8" font-weight="normal">&#8734;</tspan>)h&#957;<tspan font-size="8">)</tspan><tspan dy="-2.7">2</tspan></text></g>
<line x1="172.4" y1="717.1" x2="196" y2="614" stroke="#222" stroke-width="0.9" />
<g><rect x="240.2" y="424.3" width="4.2" height="5.4" fill="#000"/><rect x="239.66" y="425.59" width="4.2" height="5.4" fill="#000"/><rect x="239.11" y="426.88" width="4.2" height="5.4" fill="#000"/><rect x="238.57" y="428.17" width="4.2" height="5.4" fill="#000"/><rect x="238.03" y="429.46" width="4.2" height="5.4" fill="#000"/><rect x="237.49" y="430.75" width="4.2" height="5.4" fill="#000"/><rect x="236.94" y="432.04" width="4.2" height="5.4" fill="#000"/><rect x="236.41" y="433.34" width="4.2" height="5.4" fill="#000"/><rect x="235.91" y="434.65" width="4.2" height="5.4" fill="#000"/><rect x="235.42" y="435.96" width="4.2" height="5.4" fill="#000"/><rect x="234.92" y="437.27" width="4.2" height="5.4" fill="#000"/><rect x="234.43" y="438.57" width="4.2" height="5.4" fill="#000"/><rect x="233.93" y="439.88" width="4.2" height="5.4" fill="#000"/><rect x="233.44" y="441.19" width="4.2" height="5.4" fill="#000"/><rect x="232.94" y="442.5" width="4.2" height="5.4" fill="#000"/><rect x="232.47" y="443.82" width="4.2" height="5.4" fill="#000"/><rect x="232.05" y="445.16" width="4.2" height="5.4" fill="#000"/><rect x="231.64" y="446.49" width="4.2" height="5.4" fill="#000"/><rect x="231.22" y="447.83" width="4.2" height="5.4" fill="#000"/><rect x="230.81" y="449.17" width="4.2" height="5.4" fill="#000"/><rect x="230.39" y="450.51" width="4.2" height="5.4" fill="#000"/><rect x="229.98" y="451.84" width="4.2" height="5.4" fill="#000"/><rect x="229.56" y="453.18" width="4.2" height="5.4" fill="#000"/><rect x="229.17" y="454.52" width="4.2" height="5.4" fill="#000"/><rect x="228.8" y="455.87" width="4.2" height="5.4" fill="#000"/><rect x="228.43" y="457.22" width="4.2" height="5.4" fill="#000"/><rect x="228.06" y="458.57" width="4.2" height="5.4" fill="#000"/><rect x="227.68" y="459.92" width="4.2" height="5.4" fill="#000"/><rect x="227.31" y="461.27" width="4.2" height="5.4" fill="#000"/><rect x="226.94" y="462.62" width="4.2" height="5.4" fill="#000"/><rect x="226.57" y="463.97" width="4.2" height="5.4" fill="#000"/><rect x="226.2" y="465.32" width="4.2" height="5.4" fill="#000"/><rect x="225.89" y="466.69" width="4.2" height="5.4" fill="#000"/><rect x="225.58" y="468.05" width="4.2" height="5.4" fill="#000"/><rect x="225.28" y="469.42" width="4.2" height="5.4" fill="#000"/><rect x="224.97" y="470.79" width="4.2" height="5.4" fill="#000"/><rect x="224.66" y="472.15" width="4.2" height="5.4" fill="#000"/><rect x="224.36" y="473.52" width="4.2" height="5.4" fill="#000"/><rect x="224.05" y="474.88" width="4.2" height="5.4" fill="#000"/><rect x="223.75" y="476.25" width="4.2" height="5.4" fill="#000"/><rect x="223.45" y="477.62" width="4.2" height="5.4" fill="#000"/><rect x="223.15" y="478.99" width="4.2" height="5.4" fill="#000"/><rect x="222.86" y="480.35" width="4.2" height="5.4" fill="#000"/><rect x="222.56" y="481.72" width="4.2" height="5.4" fill="#000"/><rect x="222.27" y="483.09" width="4.2" height="5.4" fill="#000"/><rect x="221.97" y="484.46" width="4.2" height="5.4" fill="#000"/><rect x="221.68" y="485.83" width="4.2" height="5.4" fill="#000"/><rect x="221.38" y="487.2" width="4.2" height="5.4" fill="#000"/><rect x="221.09" y="488.57" width="4.2" height="5.4" fill="#000"/><rect x="220.78" y="489.93" width="4.2" height="5.4" fill="#000"/><rect x="220.47" y="491.3" width="4.2" height="5.4" fill="#000"/><rect x="220.17" y="492.66" width="4.2" height="5.4" fill="#000"/><rect x="219.86" y="494.03" width="4.2" height="5.4" fill="#000"/><rect x="219.55" y="495.4" width="4.2" height="5.4" fill="#000"/><rect x="219.25" y="496.76" width="4.2" height="5.4" fill="#000"/><rect x="218.94" y="498.13" width="4.2" height="5.4" fill="#000"/><rect x="218.64" y="499.49" width="4.2" height="5.4" fill="#000"/><rect x="218.33" y="500.86" width="4.2" height="5.4" fill="#000"/><rect x="218.03" y="502.23" width="4.2" height="5.4" fill="#000"/><rect x="217.74" y="503.6" width="4.2" height="5.4" fill="#000"/><rect x="217.44" y="504.96" width="4.2" height="5.4" fill="#000"/><rect x="217.14" y="506.33" width="4.2" height="5.4" fill="#000"/><rect x="216.84" y="507.7" width="4.2" height="5.4" fill="#000"/><rect x="216.54" y="509.07" width="4.2" height="5.4" fill="#000"/><rect x="216.24" y="510.44" width="4.2" height="5.4" fill="#000"/><rect x="215.94" y="511.8" width="4.2" height="5.4" fill="#000"/><rect x="215.64" y="513.17" width="4.2" height="5.4" fill="#000"/><rect x="215.34" y="514.54" width="4.2" height="5.4" fill="#000"/><rect x="215.03" y="515.9" width="4.2" height="5.4" fill="#000"/><rect x="214.71" y="517.27" width="4.2" height="5.4" fill="#000"/><rect x="214.39" y="518.63" width="4.2" height="5.4" fill="#000"/><rect x="214.06" y="519.99" width="4.2" height="5.4" fill="#000"/><rect x="213.74" y="521.35" width="4.2" height="5.4" fill="#000"/><rect x="213.41" y="522.71" width="4.2" height="5.4" fill="#000"/><rect x="213.09" y="524.08" width="4.2" height="5.4" fill="#000"/><rect x="212.77" y="525.44" width="4.2" height="5.4" fill="#000"/><rect x="212.44" y="526.8" width="4.2" height="5.4" fill="#000"/><rect x="212.12" y="528.16" width="4.2" height="5.4" fill="#000"/><rect x="211.8" y="529.52" width="4.2" height="5.4" fill="#000"/><rect x="211.47" y="530.89" width="4.2" height="5.4" fill="#000"/><rect x="211.15" y="532.25" width="4.2" height="5.4" fill="#000"/><rect x="210.84" y="533.61" width="4.2" height="5.4" fill="#000"/><rect x="210.59" y="534.99" width="4.2" height="5.4" fill="#000"/><rect x="210.33" y="536.37" width="4.2" height="5.4" fill="#000"/><rect x="210.08" y="537.74" width="4.2" height="5.4" fill="#000"/><rect x="209.83" y="539.12" width="4.2" height="5.4" fill="#000"/><rect x="209.57" y="540.5" width="4.2" height="5.4" fill="#000"/><rect x="209.32" y="541.87" width="4.2" height="5.4" fill="#000"/><rect x="209.06" y="543.25" width="4.2" height="5.4" fill="#000"/><rect x="208.81" y="544.63" width="4.2" height="5.4" fill="#000"/><rect x="208.56" y="546" width="4.2" height="5.4" fill="#000"/><rect x="208.3" y="547.38" width="4.2" height="5.4" fill="#000"/><rect x="208.05" y="548.76" width="4.2" height="5.4" fill="#000"/><rect x="207.79" y="550.14" width="4.2" height="5.4" fill="#000"/><rect x="207.54" y="551.51" width="4.2" height="5.4" fill="#000"/><rect x="207.29" y="552.89" width="4.2" height="5.4" fill="#000"/><rect x="207.01" y="554.26" width="4.2" height="5.4" fill="#000"/><rect x="206.68" y="555.62" width="4.2" height="5.4" fill="#000"/><rect x="206.36" y="556.98" width="4.2" height="5.4" fill="#000"/><rect x="206.03" y="558.34" width="4.2" height="5.4" fill="#000"/><rect x="205.7" y="559.7" width="4.2" height="5.4" fill="#000"/><rect x="205.37" y="561.07" width="4.2" height="5.4" fill="#000"/><rect x="205.04" y="562.43" width="4.2" height="5.4" fill="#000"/><rect x="204.71" y="563.79" width="4.2" height="5.4" fill="#000"/><rect x="204.38" y="565.15" width="4.2" height="5.4" fill="#000"/><rect x="204.13" y="566.52" width="4.2" height="5.4" fill="#000"/><rect x="203.89" y="567.9" width="4.2" height="5.4" fill="#000"/><rect x="203.66" y="569.28" width="4.2" height="5.4" fill="#000"/><rect x="203.43" y="570.66" width="4.2" height="5.4" fill="#000"/><rect x="203.19" y="572.05" width="4.2" height="5.4" fill="#000"/><rect x="202.96" y="573.43" width="4.2" height="5.4" fill="#000"/><rect x="202.72" y="574.81" width="4.2" height="5.4" fill="#000"/><rect x="202.49" y="576.19" width="4.2" height="5.4" fill="#000"/><rect x="202.26" y="577.57" width="4.2" height="5.4" fill="#000"/><rect x="201.94" y="578.93" width="4.2" height="5.4" fill="#000"/><rect x="201.6" y="580.29" width="4.2" height="5.4" fill="#000"/><rect x="201.26" y="581.65" width="4.2" height="5.4" fill="#000"/><rect x="200.92" y="583" width="4.2" height="5.4" fill="#000"/><rect x="200.58" y="584.36" width="4.2" height="5.4" fill="#000"/><rect x="200.24" y="585.72" width="4.2" height="5.4" fill="#000"/><rect x="199.91" y="587.08" width="4.2" height="5.4" fill="#000"/><rect x="199.57" y="588.44" width="4.2" height="5.4" fill="#000"/><rect x="199.23" y="589.8" width="4.2" height="5.4" fill="#000"/><rect x="198.87" y="591.15" width="4.2" height="5.4" fill="#000"/><rect x="198.5" y="592.5" width="4.2" height="5.4" fill="#000"/><rect x="198.13" y="593.85" width="4.2" height="5.4" fill="#000"/><rect x="197.76" y="595.2" width="4.2" height="5.4" fill="#000"/><rect x="197.39" y="596.55" width="4.2" height="5.4" fill="#000"/><rect x="197.02" y="597.9" width="4.2" height="5.4" fill="#000"/><rect x="196.64" y="599.25" width="4.2" height="5.4" fill="#000"/><rect x="196.27" y="600.6" width="4.2" height="5.4" fill="#000"/><rect x="195.86" y="601.93" width="4.2" height="5.4" fill="#000"/><rect x="195.3" y="603.22" width="4.2" height="5.4" fill="#000"/><rect x="194.75" y="604.5" width="4.2" height="5.4" fill="#000"/><rect x="194.2" y="605.79" width="4.2" height="5.4" fill="#000"/><rect x="193.64" y="607.08" width="4.2" height="5.4" fill="#000"/><rect x="193.09" y="608.36" width="4.2" height="5.4" fill="#000"/><rect x="192.21" y="609.41" width="4.2" height="5.4" fill="#000"/><rect x="191.16" y="610.34" width="4.2" height="5.4" fill="#000"/><rect x="190.12" y="611.27" width="4.2" height="5.4" fill="#000"/><rect x="189.07" y="612.2" width="4.2" height="5.4" fill="#000"/><rect x="188.4" y="612.8" width="4.2" height="5.4" fill="#000"/></g>
<rect x="59" y="403.2" width="275.5" height="313.9" fill="none" stroke="#111" stroke-width="1.2"/>
<line x1="93.44" y1="717.1" x2="93.44" y2="720.6" stroke="#111" stroke-width="1.2" />
<line x1="162.31" y1="717.1" x2="162.31" y2="720.6" stroke="#111" stroke-width="1.2" />
<line x1="231.19" y1="717.1" x2="231.19" y2="720.6" stroke="#111" stroke-width="1.2" />
<line x1="300.06" y1="717.1" x2="300.06" y2="720.6" stroke="#111" stroke-width="1.2" />
<line x1="59" y1="717.1" x2="59" y2="723.1" stroke="#111" stroke-width="1.2" />
<line x1="127.87" y1="717.1" x2="127.87" y2="723.1" stroke="#111" stroke-width="1.2" />
<line x1="196.75" y1="717.1" x2="196.75" y2="723.1" stroke="#111" stroke-width="1.2" />
<line x1="265.62" y1="717.1" x2="265.62" y2="723.1" stroke="#111" stroke-width="1.2" />
<line x1="334.5" y1="717.1" x2="334.5" y2="723.1" stroke="#111" stroke-width="1.2" />
<line x1="55.5" y1="689.8" x2="59" y2="689.8" stroke="#111" stroke-width="1.2" />
<line x1="55.5" y1="635.21" x2="59" y2="635.21" stroke="#111" stroke-width="1.2" />
<line x1="55.5" y1="580.62" x2="59" y2="580.62" stroke="#111" stroke-width="1.2" />
<line x1="55.5" y1="526.03" x2="59" y2="526.03" stroke="#111" stroke-width="1.2" />
<line x1="55.5" y1="471.44" x2="59" y2="471.44" stroke="#111" stroke-width="1.2" />
<line x1="55.5" y1="416.85" x2="59" y2="416.85" stroke="#111" stroke-width="1.2" />
<line x1="53" y1="717.1" x2="59" y2="717.1" stroke="#111" stroke-width="1.2" />
<line x1="53" y1="662.51" x2="59" y2="662.51" stroke="#111" stroke-width="1.2" />
<line x1="53" y1="607.92" x2="59" y2="607.92" stroke="#111" stroke-width="1.2" />
<line x1="53" y1="553.33" x2="59" y2="553.33" stroke="#111" stroke-width="1.2" />
<line x1="53" y1="498.73" x2="59" y2="498.73" stroke="#111" stroke-width="1.2" />
<line x1="53" y1="444.14" x2="59" y2="444.14" stroke="#111" stroke-width="1.2" />
<g id="t_C_x0" transform="translate(58.51,739.42) scale(0.8495,1.1304)"><text x="0" y="0" font-size="15" font-weight="bold" text-anchor="middle" fill="#000">0.7</text></g>
<g id="t_C_x1" transform="translate(127.38,739.42) scale(0.8495,1.1304)"><text x="0" y="0" font-size="15" font-weight="bold" text-anchor="middle" fill="#000">0.8</text></g>
<g id="t_C_x2" transform="translate(196.26,739.42) scale(0.8495,1.1304)"><text x="0" y="0" font-size="15" font-weight="bold" text-anchor="middle" fill="#000">0.9</text></g>
<g id="t_C_x3" transform="translate(265.13,739.42) scale(0.8495,1.1304)"><text x="0" y="0" font-size="15" font-weight="bold" text-anchor="middle" fill="#000">1.0</text></g>
<g id="t_C_x4" transform="translate(334.01,739.42) scale(0.8495,1.1304)"><text x="0" y="0" font-size="15" font-weight="bold" text-anchor="middle" fill="#000">1.1</text></g>
<g id="t_C_y0" transform="translate(50.33,721.62) scale(0.9132,1.0083)"><text x="0" y="0" font-size="15" font-weight="bold" text-anchor="end" fill="#000">0.0</text></g>
<g id="t_C_y1" transform="translate(50.33,667.03) scale(0.9132,1.0083)"><text x="0" y="0" font-size="15" font-weight="bold" text-anchor="end" fill="#000">0.1</text></g>
<g id="t_C_y2" transform="translate(50.33,612.44) scale(0.9132,1.0083)"><text x="0" y="0" font-size="15" font-weight="bold" text-anchor="end" fill="#000">0.2</text></g>
<g id="t_C_y3" transform="translate(50.33,557.85) scale(0.9132,1.0083)"><text x="0" y="0" font-size="15" font-weight="bold" text-anchor="end" fill="#000">0.3</text></g>
<g id="t_C_y4" transform="translate(50.33,503.25) scale(0.9132,1.0083)"><text x="0" y="0" font-size="15" font-weight="bold" text-anchor="end" fill="#000">0.4</text></g>
<g id="t_C_y5" transform="translate(50.33,448.66) scale(0.9132,1.0083)"><text x="0" y="0" font-size="15" font-weight="bold" text-anchor="end" fill="#000">0.5</text></g>
<g id="t_C_tag" transform="translate(305.88,426.07) scale(0.9544,0.9690)"><text x="0" y="0" font-size="15" font-weight="bold" text-anchor="start" fill="#000">(c)</text></g>
<g id="t_C_temp" transform="translate(286.3,499.97) scale(0.9065,1.0854)"><text x="0" y="0" font-size="14.5" font-weight="bold" text-anchor="start" fill="#000">430 <tspan font-size="8.5" dy="-7">o</tspan><tspan dy="7">C</tspan></text></g>
<rect x="222.5" y="513.3" width="112" height="19.2" fill="none" stroke="#444" stroke-width="1"/>
<rect x="242.2" y="521.1" width="4.8" height="5.6" fill="#000"/>
<g id="t_C_leg" transform="translate(263.26,528.77) scale(0.9039,0.9356)"><text x="0" y="0" font-size="15" font-weight="bold" text-anchor="start" fill="#000">10 min<tspan class="us">_</tspan>T-I</text></g>
<g id="t_C_xl" transform="translate(196.83,771.06) scale(0.9208,0.9782)"><text x="0" y="0" font-size="18.5" font-weight="bold" text-anchor="middle" fill="#000">h&#957; (eV)</text></g>
<g id="t_C_yl" transform="translate(16.86,567.08) rotate(-90) scale(1.0301,0.8796)"><text x="0" y="0" font-size="18.5" font-weight="bold" text-anchor="middle" fill="#000">(F(R)h&#957;)<tspan font-size="12" dy="-8">2</tspan></text></g>
<rect x="95.2" y="408.5" width="106.3" height="145.9" fill="#fff"/>
<line x1="140.3" y1="554.4" x2="163" y2="463" stroke="#333" stroke-width="0.7" />
<g><rect x="176.4" y="412.7" width="3.2" height="3.6" fill="#000"/><rect x="175.91" y="413.57" width="3.2" height="3.6" fill="#000"/><rect x="175.73" y="414.56" width="3.2" height="3.6" fill="#000"/><rect x="175.56" y="415.54" width="3.2" height="3.6" fill="#000"/><rect x="175.38" y="416.53" width="3.2" height="3.6" fill="#000"/><rect x="175.21" y="417.51" width="3.2" height="3.6" fill="#000"/><rect x="175.04" y="418.49" width="3.2" height="3.6" fill="#000"/><rect x="174.86" y="419.48" width="3.2" height="3.6" fill="#000"/><rect x="174.68" y="420.46" width="3.2" height="3.6" fill="#000"/><rect x="174.45" y="421.44" width="3.2" height="3.6" fill="#000"/><rect x="174.21" y="422.41" width="3.2" height="3.6" fill="#000"/><rect x="173.98" y="423.38" width="3.2" height="3.6" fill="#000"/><rect x="173.74" y="424.35" width="3.2" height="3.6" fill="#000"/><rect x="173.51" y="425.32" width="3.2" height="3.6" fill="#000"/><rect x="173.27" y="426.29" width="3.2" height="3.6" fill="#000"/><rect x="173.03" y="427.27" width="3.2" height="3.6" fill="#000"/><rect x="172.8" y="428.24" width="3.2" height="3.6" fill="#000"/><rect x="172.56" y="429.21" width="3.2" height="3.6" fill="#000"/><rect x="172.33" y="430.18" width="3.2" height="3.6" fill="#000"/><rect x="172.06" y="431.15" width="3.2" height="3.6" fill="#000"/><rect x="171.77" y="432.1" width="3.2" height="3.6" fill="#000"/><rect x="171.48" y="433.06" width="3.2" height="3.6" fill="#000"/><rect x="171.19" y="434.01" width="3.2" height="3.6" fill="#000"/><rect x="170.89" y="434.97" width="3.2" height="3.6" fill="#000"/><rect x="170.6" y="435.93" width="3.2" height="3.6" fill="#000"/><rect x="170.31" y="436.88" width="3.2" height="3.6" fill="#000"/><rect x="170.02" y="437.84" width="3.2" height="3.6" fill="#000"/><rect x="169.72" y="438.8" width="3.2" height="3.6" fill="#000"/><rect x="169.43" y="439.75" width="3.2" height="3.6" fill="#000"/><rect x="169.14" y="440.71" width="3.2" height="3.6" fill="#000"/><rect x="168.85" y="441.67" width="3.2" height="3.6" fill="#000"/><rect x="168.56" y="442.62" width="3.2" height="3.6" fill="#000"/><rect x="168.28" y="443.58" width="3.2" height="3.6" fill="#000"/><rect x="167.99" y="444.54" width="3.2" height="3.6" fill="#000"/><rect x="167.7" y="445.5" width="3.2" height="3.6" fill="#000"/><rect x="167.41" y="446.45" width="3.2" height="3.6" fill="#000"/><rect x="167.12" y="447.41" width="3.2" height="3.6" fill="#000"/><rect x="166.8" y="448.36" width="3.2" height="3.6" fill="#000"/><rect x="166.45" y="449.3" width="3.2" height="3.6" fill="#000"/><rect x="166.11" y="450.23" width="3.2" height="3.6" fill="#000"/><rect x="165.76" y="451.17" width="3.2" height="3.6" fill="#000"/><rect x="165.42" y="452.11" width="3.2" height="3.6" fill="#000"/><rect x="165.07" y="453.05" width="3.2" height="3.6" fill="#000"/><rect x="164.72" y="453.99" width="3.2" height="3.6" fill="#000"/><rect x="164.36" y="454.92" width="3.2" height="3.6" fill="#000"/><rect x="163.96" y="455.84" width="3.2" height="3.6" fill="#000"/><rect x="163.57" y="456.75" width="3.2" height="3.6" fill="#000"/><rect x="163.17" y="457.67" width="3.2" height="3.6" fill="#000"/><rect x="162.77" y="458.59" width="3.2" height="3.6" fill="#000"/><rect x="162.37" y="459.51" width="3.2" height="3.6" fill="#000"/><rect x="161.98" y="460.42" width="3.2" height="3.6" fill="#000"/><rect x="161.54" y="461.32" width="3.2" height="3.6" fill="#000"/><rect x="161.09" y="462.22" width="3.2" height="3.6" fill="#000"/><rect x="160.64" y="463.11" width="3.2" height="3.6" fill="#000"/><rect x="160.2" y="464" width="3.2" height="3.6" fill="#000"/></g>
<rect x="95.2" y="408.5" width="106.3" height="145.9" fill="none" stroke="#707070" stroke-width="1"/>
<line x1="110.39" y1="554.4" x2="110.39" y2="556.4" stroke="#707070" stroke-width="1" />
<line x1="140.76" y1="554.4" x2="140.76" y2="556.4" stroke="#707070" stroke-width="1" />
<line x1="171.13" y1="554.4" x2="171.13" y2="556.4" stroke="#707070" stroke-width="1" />
<line x1="201.5" y1="554.4" x2="201.5" y2="556.4" stroke="#707070" stroke-width="1" />
<line x1="95.2" y1="554.4" x2="95.2" y2="557.9" stroke="#707070" stroke-width="1" />
<line x1="125.57" y1="554.4" x2="125.57" y2="557.9" stroke="#707070" stroke-width="1" />
<line x1="155.94" y1="554.4" x2="155.94" y2="557.9" stroke="#707070" stroke-width="1" />
<line x1="186.31" y1="554.4" x2="186.31" y2="557.9" stroke="#707070" stroke-width="1" />
<line x1="93.2" y1="536.16" x2="95.2" y2="536.16" stroke="#707070" stroke-width="1" />
<line x1="93.2" y1="499.69" x2="95.2" y2="499.69" stroke="#707070" stroke-width="1" />
<line x1="93.2" y1="463.21" x2="95.2" y2="463.21" stroke="#707070" stroke-width="1" />
<line x1="93.2" y1="426.74" x2="95.2" y2="426.74" stroke="#707070" stroke-width="1" />
<line x1="91.7" y1="554.4" x2="95.2" y2="554.4" stroke="#707070" stroke-width="1" />
<line x1="91.7" y1="517.92" x2="95.2" y2="517.92" stroke="#707070" stroke-width="1" />
<line x1="91.7" y1="481.45" x2="95.2" y2="481.45" stroke="#707070" stroke-width="1" />
<line x1="91.7" y1="444.98" x2="95.2" y2="444.98" stroke="#707070" stroke-width="1" />
<line x1="91.7" y1="408.5" x2="95.2" y2="408.5" stroke="#707070" stroke-width="1" />
<g id="t_CI_x0" transform="translate(94.99,566.35) scale(0.9612,1.1999)"><text x="0" y="0" font-size="9" font-weight="bold" text-anchor="middle" fill="#111">1.0</text></g>
<g id="t_CI_x1" transform="translate(125.36,566.35) scale(0.9612,1.1999)"><text x="0" y="0" font-size="9" font-weight="bold" text-anchor="middle" fill="#111">1.2</text></g>
<g id="t_CI_x2" transform="translate(155.73,566.35) scale(0.9612,1.1999)"><text x="0" y="0" font-size="9" font-weight="bold" text-anchor="middle" fill="#111">1.4</text></g>
<g id="t_CI_x3" transform="translate(186.11,566.35) scale(0.9612,1.1999)"><text x="0" y="0" font-size="9" font-weight="bold" text-anchor="middle" fill="#111">1.6</text></g>
<g id="t_CI_y0" transform="translate(91.93,557) scale(0.9893,1.1792)"><text x="0" y="0" font-size="9" font-weight="bold" text-anchor="end" fill="#111">0.0</text></g>
<g id="t_CI_y1" transform="translate(91.93,520.52) scale(0.9893,1.1792)"><text x="0" y="0" font-size="9" font-weight="bold" text-anchor="end" fill="#111">0.5</text></g>
<g id="t_CI_y2" transform="translate(91.93,484.05) scale(0.9893,1.1792)"><text x="0" y="0" font-size="9" font-weight="bold" text-anchor="end" fill="#111">1.0</text></g>
<g id="t_CI_y3" transform="translate(91.93,447.57) scale(0.9893,1.1792)"><text x="0" y="0" font-size="9" font-weight="bold" text-anchor="end" fill="#111">1.5</text></g>
<g id="t_CI_y4" transform="translate(91.93,411.1) scale(0.9893,1.1792)"><text x="0" y="0" font-size="9" font-weight="bold" text-anchor="end" fill="#111">2.0</text></g>
<rect x="96" y="409.4" width="61.5" height="13.7" fill="none" stroke="#999" stroke-width="0.9"/>
<rect x="100.9" y="416.9" width="2.8" height="3.2" fill="#000"/>
<g id="t_CI_leg" transform="translate(110.34,420.68) scale(0.8652,0.9845)"><text x="0" y="0" font-size="10.5" font-weight="bold" text-anchor="start" fill="#000">10 min<tspan class="us">_</tspan>T-II</text></g>
<g id="t_CI_xl" transform="translate(148.05,586.58) scale(0.9249,0.9446)"><text x="0" y="0" font-size="12.5" font-weight="bold" text-anchor="middle" fill="#000">h&#957; <tspan font-size="8">(</tspan>eV<tspan font-size="8">)</tspan></text></g>
<g id="t_CI_yl" transform="translate(73.66,492) rotate(-90) scale(1.1455,0.8859)"><text x="0" y="0" font-size="11.8" font-weight="bold" text-anchor="middle" fill="#000"><tspan font-size="8">(</tspan>F(R)h&#957;<tspan font-size="8">)</tspan><tspan dy="-2.7">2</tspan></text></g>
<line x1="535.8" y1="717.1" x2="560" y2="632" stroke="#222" stroke-width="0.9" />
<line x1="535.8" y1="717.1" x2="558" y2="632" stroke="#222" stroke-width="0.9" />
<g><rect x="514.1" y="650.45" width="4.8" height="5.7" fill="#000"/><rect x="515.3" y="650.37" width="4.8" height="5.7" fill="#000"/><rect x="516.5" y="650.29" width="4.8" height="5.7" fill="#000"/><rect x="517.7" y="650.21" width="4.8" height="5.7" fill="#000"/><rect x="518.9" y="650.02" width="4.8" height="5.7" fill="#000"/><rect x="520.1" y="649.51" width="4.8" height="5.7" fill="#000"/><rect x="521.3" y="649" width="4.8" height="5.7" fill="#000"/><rect x="522.5" y="648.49" width="4.8" height="5.7" fill="#000"/><rect x="523.7" y="647.98" width="4.8" height="5.7" fill="#000"/><rect x="524.9" y="647.47" width="4.8" height="5.7" fill="#000"/><rect x="526.1" y="646.96" width="4.8" height="5.7" fill="#000"/><rect x="527.3" y="646.48" width="4.8" height="5.7" fill="#000"/><rect x="528.5" y="646.02" width="4.8" height="5.7" fill="#000"/><rect x="529.7" y="645.56" width="4.8" height="5.7" fill="#000"/><rect x="530.9" y="645.1" width="4.8" height="5.7" fill="#000"/><rect x="532.1" y="644.64" width="4.8" height="5.7" fill="#000"/><rect x="533.3" y="644.09" width="4.8" height="5.7" fill="#000"/><rect x="534.5" y="643.47" width="4.8" height="5.7" fill="#000"/><rect x="535.7" y="642.85" width="4.8" height="5.7" fill="#000"/><rect x="536.9" y="642.23" width="4.8" height="5.7" fill="#000"/><rect x="538.1" y="641.61" width="4.8" height="5.7" fill="#000"/><rect x="539.3" y="640.81" width="4.8" height="5.7" fill="#000"/><rect x="540.5" y="639.88" width="4.8" height="5.7" fill="#000"/><rect x="541.7" y="638.96" width="4.8" height="5.7" fill="#000"/><rect x="542.9" y="638.03" width="4.8" height="5.7" fill="#000"/><rect x="544.1" y="637.11" width="4.8" height="5.7" fill="#000"/><rect x="545.3" y="636.18" width="4.8" height="5.7" fill="#000"/><rect x="546.5" y="633.83" width="4.8" height="5.7" fill="#000"/><rect x="547.7" y="631.01" width="4.8" height="5.7" fill="#000"/><rect x="548.9" y="628.19" width="4.8" height="5.7" fill="#000"/><rect x="550.1" y="625.36" width="4.8" height="5.7" fill="#000"/><rect x="551.3" y="622.54" width="4.8" height="5.7" fill="#000"/><rect x="552.5" y="619.74" width="4.8" height="5.7" fill="#000"/><rect x="553.7" y="617.21" width="4.8" height="5.7" fill="#000"/><rect x="554.9" y="614.67" width="4.8" height="5.7" fill="#000"/><rect x="556.1" y="612.14" width="4.8" height="5.7" fill="#000"/><rect x="557.3" y="609.61" width="4.8" height="5.7" fill="#000"/><rect x="558.5" y="606.81" width="4.8" height="5.7" fill="#000"/><rect x="559.7" y="603.84" width="4.8" height="5.7" fill="#000"/><rect x="560.9" y="600.86" width="4.8" height="5.7" fill="#000"/><rect x="562.1" y="597.89" width="4.8" height="5.7" fill="#000"/><rect x="563.3" y="594.32" width="4.8" height="5.7" fill="#000"/><rect x="564.5" y="590.32" width="4.8" height="5.7" fill="#000"/><rect x="565.7" y="586.32" width="4.8" height="5.7" fill="#000"/><rect x="566.9" y="583.15" width="4.8" height="5.7" fill="#000"/><rect x="568.1" y="580.15" width="4.8" height="5.7" fill="#000"/><rect x="569.3" y="577.15" width="4.8" height="5.7" fill="#000"/><rect x="570.5" y="572.66" width="4.8" height="5.7" fill="#000"/><rect x="571.7" y="568.16" width="4.8" height="5.7" fill="#000"/><rect x="572.9" y="563.44" width="4.8" height="5.7" fill="#000"/><rect x="574.1" y="558.72" width="4.8" height="5.7" fill="#000"/><rect x="575.3" y="554.71" width="4.8" height="5.7" fill="#000"/><rect x="576.5" y="551.07" width="4.8" height="5.7" fill="#000"/><rect x="577.7" y="547.64" width="4.8" height="5.7" fill="#000"/><rect x="578.9" y="544.23" width="4.8" height="5.7" fill="#000"/><rect x="580.1" y="540.8" width="4.8" height="5.7" fill="#000"/><rect x="581.3" y="536.15" width="4.8" height="5.7" fill="#000"/><rect x="582.5" y="531.08" width="4.8" height="5.7" fill="#000"/><rect x="583.7" y="526.88" width="4.8" height="5.7" fill="#000"/><rect x="584.9" y="523.55" width="4.8" height="5.7" fill="#000"/><rect x="586.1" y="520.21" width="4.8" height="5.7" fill="#000"/><rect x="587.3" y="516.92" width="4.8" height="5.7" fill="#000"/><rect x="588.5" y="514.13" width="4.8" height="5.7" fill="#000"/><rect x="589.7" y="511.35" width="4.8" height="5.7" fill="#000"/><rect x="590.9" y="506.46" width="4.8" height="5.7" fill="#000"/><rect x="592.1" y="501.58" width="4.8" height="5.7" fill="#000"/><rect x="593.3" y="497.67" width="4.8" height="5.7" fill="#000"/><rect x="594.5" y="494.25" width="4.8" height="5.7" fill="#000"/><rect x="595.7" y="490.83" width="4.8" height="5.7" fill="#000"/><rect x="596.9" y="487.83" width="4.8" height="5.7" fill="#000"/><rect x="598.1" y="485.66" width="4.8" height="5.7" fill="#000"/><rect x="599.3" y="483.5" width="4.8" height="5.7" fill="#000"/><rect x="600.5" y="481.33" width="4.8" height="5.7" fill="#000"/><rect x="601.7" y="479.5" width="4.8" height="5.7" fill="#000"/><rect x="602.9" y="477.7" width="4.8" height="5.7" fill="#000"/><rect x="604.1" y="475.9" width="4.8" height="5.7" fill="#000"/><rect x="605.3" y="472.35" width="4.8" height="5.7" fill="#000"/><rect x="606.5" y="467.55" width="4.8" height="5.7" fill="#000"/><rect x="607.7" y="446.98" width="4.8" height="5.7" fill="#000"/><rect x="608.9" y="440.62" width="4.8" height="5.7" fill="#000"/><rect x="610.1" y="438.19" width="4.8" height="5.7" fill="#000"/><rect x="611.3" y="435.76" width="4.8" height="5.7" fill="#000"/><rect x="612.5" y="433.35" width="4.8" height="5.7" fill="#000"/><rect x="613.7" y="430.95" width="4.8" height="5.7" fill="#000"/><rect x="614.9" y="428.55" width="4.8" height="5.7" fill="#000"/><rect x="615.1" y="428.15" width="4.8" height="5.7" fill="#000"/></g>
<g><ellipse cx="516" cy="669" rx="2.9" ry="3.25" fill="#f00" stroke="#c80000" stroke-width="0.45"/><ellipse cx="517.2" cy="668.53" rx="2.9" ry="3.25" fill="#f00" stroke="#c80000" stroke-width="0.45"/><ellipse cx="518.4" cy="668.07" rx="2.9" ry="3.25" fill="#f00" stroke="#c80000" stroke-width="0.45"/><ellipse cx="519.6" cy="667.6" rx="2.9" ry="3.25" fill="#f00" stroke="#c80000" stroke-width="0.45"/><ellipse cx="520.8" cy="667.13" rx="2.9" ry="3.25" fill="#f00" stroke="#c80000" stroke-width="0.45"/><ellipse cx="522" cy="666.72" rx="2.9" ry="3.25" fill="#f00" stroke="#c80000" stroke-width="0.45"/><ellipse cx="523.2" cy="666.36" rx="2.9" ry="3.25" fill="#f00" stroke="#c80000" stroke-width="0.45"/><ellipse cx="524.4" cy="666.01" rx="2.9" ry="3.25" fill="#f00" stroke="#c80000" stroke-width="0.45"/><ellipse cx="525.6" cy="665.65" rx="2.9" ry="3.25" fill="#f00" stroke="#c80000" stroke-width="0.45"/><ellipse cx="526.8" cy="665.29" rx="2.9" ry="3.25" fill="#f00" stroke="#c80000" stroke-width="0.45"/><ellipse cx="528" cy="664.84" rx="2.9" ry="3.25" fill="#f00" stroke="#c80000" stroke-width="0.45"/><ellipse cx="529.2" cy="664.35" rx="2.9" ry="3.25" fill="#f00" stroke="#c80000" stroke-width="0.45"/><ellipse cx="530.4" cy="663.87" rx="2.9" ry="3.25" fill="#f00" stroke="#c80000" stroke-width="0.45"/><ellipse cx="531.6" cy="663.38" rx="2.9" ry="3.25" fill="#f00" stroke="#c80000" stroke-width="0.45"/><ellipse cx="532.8" cy="662.9" rx="2.9" ry="3.25" fill="#f00" stroke="#c80000" stroke-width="0.45"/><ellipse cx="534" cy="662.25" rx="2.9" ry="3.25" fill="#f00" stroke="#c80000" stroke-width="0.45"/><ellipse cx="535.2" cy="661.59" rx="2.9" ry="3.25" fill="#f00" stroke="#c80000" stroke-width="0.45"/><ellipse cx="536.4" cy="660.94" rx="2.9" ry="3.25" fill="#f00" stroke="#c80000" stroke-width="0.45"/><ellipse cx="537.6" cy="660.29" rx="2.9" ry="3.25" fill="#f00" stroke="#c80000" stroke-width="0.45"/><ellipse cx="538.8" cy="659.55" rx="2.9" ry="3.25" fill="#f00" stroke="#c80000" stroke-width="0.45"/><ellipse cx="540" cy="658.54" rx="2.9" ry="3.25" fill="#f00" stroke="#c80000" stroke-width="0.45"/><ellipse cx="541.2" cy="657.53" rx="2.9" ry="3.25" fill="#f00" stroke="#c80000" stroke-width="0.45"/><ellipse cx="542.4" cy="656.52" rx="2.9" ry="3.25" fill="#f00" stroke="#c80000" stroke-width="0.45"/><ellipse cx="543.6" cy="655.51" rx="2.9" ry="3.25" fill="#f00" stroke="#c80000" stroke-width="0.45"/><ellipse cx="544.8" cy="654.24" rx="2.9" ry="3.25" fill="#f00" stroke="#c80000" stroke-width="0.45"/><ellipse cx="546" cy="652.73" rx="2.9" ry="3.25" fill="#f00" stroke="#c80000" stroke-width="0.45"/><ellipse cx="547.2" cy="651.21" rx="2.9" ry="3.25" fill="#f00" stroke="#c80000" stroke-width="0.45"/><ellipse cx="548.4" cy="649.69" rx="2.9" ry="3.25" fill="#f00" stroke="#c80000" stroke-width="0.45"/><ellipse cx="549.6" cy="648.18" rx="2.9" ry="3.25" fill="#f00" stroke="#c80000" stroke-width="0.45"/><ellipse cx="550.8" cy="646.55" rx="2.9" ry="3.25" fill="#f00" stroke="#c80000" stroke-width="0.45"/><ellipse cx="552" cy="644.89" rx="2.9" ry="3.25" fill="#f00" stroke="#c80000" stroke-width="0.45"/><ellipse cx="553.2" cy="643.15" rx="2.9" ry="3.25" fill="#f00" stroke="#c80000" stroke-width="0.45"/><ellipse cx="554.4" cy="641.05" rx="2.9" ry="3.25" fill="#f00" stroke="#c80000" stroke-width="0.45"/><ellipse cx="555.6" cy="638.95" rx="2.9" ry="3.25" fill="#f00" stroke="#c80000" stroke-width="0.45"/><ellipse cx="556.8" cy="636.85" rx="2.9" ry="3.25" fill="#f00" stroke="#c80000" stroke-width="0.45"/><ellipse cx="558" cy="634.36" rx="2.9" ry="3.25" fill="#f00" stroke="#c80000" stroke-width="0.45"/><ellipse cx="559.2" cy="631.79" rx="2.9" ry="3.25" fill="#f00" stroke="#c80000" stroke-width="0.45"/><ellipse cx="560.4" cy="629.22" rx="2.9" ry="3.25" fill="#f00" stroke="#c80000" stroke-width="0.45"/><ellipse cx="561.6" cy="626.65" rx="2.9" ry="3.25" fill="#f00" stroke="#c80000" stroke-width="0.45"/><ellipse cx="562.8" cy="624.08" rx="2.9" ry="3.25" fill="#f00" stroke="#c80000" stroke-width="0.45"/><ellipse cx="564" cy="621.37" rx="2.9" ry="3.25" fill="#f00" stroke="#c80000" stroke-width="0.45"/><ellipse cx="565.2" cy="618.52" rx="2.9" ry="3.25" fill="#f00" stroke="#c80000" stroke-width="0.45"/><ellipse cx="566.4" cy="615.68" rx="2.9" ry="3.25" fill="#f00" stroke="#c80000" stroke-width="0.45"/><ellipse cx="567.6" cy="612.83" rx="2.9" ry="3.25" fill="#f00" stroke="#c80000" stroke-width="0.45"/><ellipse cx="568.8" cy="609.9" rx="2.9" ry="3.25" fill="#f00" stroke="#c80000" stroke-width="0.45"/><ellipse cx="570" cy="606.9" rx="2.9" ry="3.25" fill="#f00" stroke="#c80000" stroke-width="0.45"/><ellipse cx="571.2" cy="603.9" rx="2.9" ry="3.25" fill="#f00" stroke="#c80000" stroke-width="0.45"/><ellipse cx="572.4" cy="600.9" rx="2.9" ry="3.25" fill="#f00" stroke="#c80000" stroke-width="0.45"/><ellipse cx="573.6" cy="597.29" rx="2.9" ry="3.25" fill="#f00" stroke="#c80000" stroke-width="0.45"/><ellipse cx="574.8" cy="593.07" rx="2.9" ry="3.25" fill="#f00" stroke="#c80000" stroke-width="0.45"/><ellipse cx="576" cy="588.85" rx="2.9" ry="3.25" fill="#f00" stroke="#c80000" stroke-width="0.45"/><ellipse cx="577.2" cy="585.48" rx="2.9" ry="3.25" fill="#f00" stroke="#c80000" stroke-width="0.45"/><ellipse cx="578.4" cy="582.19" rx="2.9" ry="3.25" fill="#f00" stroke="#c80000" stroke-width="0.45"/><ellipse cx="579.6" cy="578.5" rx="2.9" ry="3.25" fill="#f00" stroke="#c80000" stroke-width="0.45"/><ellipse cx="580.8" cy="574.02" rx="2.9" ry="3.25" fill="#f00" stroke="#c80000" stroke-width="0.45"/><ellipse cx="582" cy="569.98" rx="2.9" ry="3.25" fill="#f00" stroke="#c80000" stroke-width="0.45"/><ellipse cx="583.2" cy="566.55" rx="2.9" ry="3.25" fill="#f00" stroke="#c80000" stroke-width="0.45"/><ellipse cx="584.4" cy="563.14" rx="2.9" ry="3.25" fill="#f00" stroke="#c80000" stroke-width="0.45"/><ellipse cx="585.6" cy="559.55" rx="2.9" ry="3.25" fill="#f00" stroke="#c80000" stroke-width="0.45"/><ellipse cx="586.8" cy="554.2" rx="2.9" ry="3.25" fill="#f00" stroke="#c80000" stroke-width="0.45"/><ellipse cx="588" cy="548.25" rx="2.9" ry="3.25" fill="#f00" stroke="#c80000" stroke-width="0.45"/><ellipse cx="589.2" cy="542.55" rx="2.9" ry="3.25" fill="#f00" stroke="#c80000" stroke-width="0.45"/><ellipse cx="590.4" cy="539.58" rx="2.9" ry="3.25" fill="#f00" stroke="#c80000" stroke-width="0.45"/><ellipse cx="591.6" cy="536.6" rx="2.9" ry="3.25" fill="#f00" stroke="#c80000" stroke-width="0.45"/><ellipse cx="592.8" cy="533.63" rx="2.9" ry="3.25" fill="#f00" stroke="#c80000" stroke-width="0.45"/><ellipse cx="594" cy="530.36" rx="2.9" ry="3.25" fill="#f00" stroke="#c80000" stroke-width="0.45"/><ellipse cx="595.2" cy="526.22" rx="2.9" ry="3.25" fill="#f00" stroke="#c80000" stroke-width="0.45"/><ellipse cx="596.4" cy="522.07" rx="2.9" ry="3.25" fill="#f00" stroke="#c80000" stroke-width="0.45"/><ellipse cx="597.6" cy="518.42" rx="2.9" ry="3.25" fill="#f00" stroke="#c80000" stroke-width="0.45"/><ellipse cx="598.8" cy="515.25" rx="2.9" ry="3.25" fill="#f00" stroke="#c80000" stroke-width="0.45"/><ellipse cx="600" cy="511.06" rx="2.9" ry="3.25" fill="#f00" stroke="#c80000" stroke-width="0.45"/><ellipse cx="601.2" cy="506.34" rx="2.9" ry="3.25" fill="#f00" stroke="#c80000" stroke-width="0.45"/><ellipse cx="602.4" cy="501.88" rx="2.9" ry="3.25" fill="#f00" stroke="#c80000" stroke-width="0.45"/><ellipse cx="603.6" cy="498.18" rx="2.9" ry="3.25" fill="#f00" stroke="#c80000" stroke-width="0.45"/><ellipse cx="604.8" cy="494.48" rx="2.9" ry="3.25" fill="#f00" stroke="#c80000" stroke-width="0.45"/><ellipse cx="606" cy="490.91" rx="2.9" ry="3.25" fill="#f00" stroke="#c80000" stroke-width="0.45"/><ellipse cx="607.2" cy="488" rx="2.9" ry="3.25" fill="#f00" stroke="#c80000" stroke-width="0.45"/><ellipse cx="608.4" cy="485.09" rx="2.9" ry="3.25" fill="#f00" stroke="#c80000" stroke-width="0.45"/><ellipse cx="609.6" cy="482.18" rx="2.9" ry="3.25" fill="#f00" stroke="#c80000" stroke-width="0.45"/><ellipse cx="610.5" cy="480" rx="2.9" ry="3.25" fill="#f00" stroke="#c80000" stroke-width="0.45"/></g>
<g><ellipse cx="613.2" cy="457.1" rx="2.9" ry="3.25" fill="#f00" stroke="#c80000" stroke-width="0.45"/><ellipse cx="613.67" cy="455.78" rx="2.9" ry="3.25" fill="#f00" stroke="#c80000" stroke-width="0.45"/><ellipse cx="614.13" cy="454.46" rx="2.9" ry="3.25" fill="#f00" stroke="#c80000" stroke-width="0.45"/><ellipse cx="614.6" cy="453.14" rx="2.9" ry="3.25" fill="#f00" stroke="#c80000" stroke-width="0.45"/><ellipse cx="615.06" cy="451.82" rx="2.9" ry="3.25" fill="#f00" stroke="#c80000" stroke-width="0.45"/><ellipse cx="615.49" cy="450.49" rx="2.9" ry="3.25" fill="#f00" stroke="#c80000" stroke-width="0.45"/><ellipse cx="615.93" cy="449.16" rx="2.9" ry="3.25" fill="#f00" stroke="#c80000" stroke-width="0.45"/><ellipse cx="616.36" cy="447.83" rx="2.9" ry="3.25" fill="#f00" stroke="#c80000" stroke-width="0.45"/><ellipse cx="616.7" cy="446.8" rx="2.9" ry="3.25" fill="#f00" stroke="#c80000" stroke-width="0.45"/></g>
<g><path d="M526 641.26L529.55 648.06L522.45 648.06Z" fill="#00f" stroke="#0000b4" stroke-width="0.45"/><path d="M527.2 640.96L530.75 647.76L523.65 647.76Z" fill="#00f" stroke="#0000b4" stroke-width="0.45"/><path d="M528.4 640.66L531.95 647.46L524.85 647.46Z" fill="#00f" stroke="#0000b4" stroke-width="0.45"/><path d="M529.6 640.36L533.15 647.16L526.05 647.16Z" fill="#00f" stroke="#0000b4" stroke-width="0.45"/><path d="M530.8 640.02L534.35 646.82L527.25 646.82Z" fill="#00f" stroke="#0000b4" stroke-width="0.45"/><path d="M532 639.66L535.55 646.46L528.45 646.46Z" fill="#00f" stroke="#0000b4" stroke-width="0.45"/><path d="M533.2 639.3L536.75 646.1L529.65 646.1Z" fill="#00f" stroke="#0000b4" stroke-width="0.45"/><path d="M534.4 638.94L537.95 645.74L530.85 645.74Z" fill="#00f" stroke="#0000b4" stroke-width="0.45"/><path d="M535.6 638.5L539.15 645.3L532.05 645.3Z" fill="#00f" stroke="#0000b4" stroke-width="0.45"/><path d="M536.8 637.97L540.35 644.77L533.25 644.77Z" fill="#00f" stroke="#0000b4" stroke-width="0.45"/><path d="M538 637.44L541.55 644.24L534.45 644.24Z" fill="#00f" stroke="#0000b4" stroke-width="0.45"/><path d="M539.2 636.91L542.75 643.71L535.65 643.71Z" fill="#00f" stroke="#0000b4" stroke-width="0.45"/><path d="M540.4 636.3L543.95 643.1L536.85 643.1Z" fill="#00f" stroke="#0000b4" stroke-width="0.45"/><path d="M541.6 635.5L545.15 642.3L538.05 642.3Z" fill="#00f" stroke="#0000b4" stroke-width="0.45"/><path d="M542.8 634.71L546.35 641.51L539.25 641.51Z" fill="#00f" stroke="#0000b4" stroke-width="0.45"/><path d="M544 633.92L547.55 640.72L540.45 640.72Z" fill="#00f" stroke="#0000b4" stroke-width="0.45"/><path d="M545.2 633.1L548.75 639.9L541.65 639.9Z" fill="#00f" stroke="#0000b4" stroke-width="0.45"/><path d="M546.4 632.14L549.95 638.94L542.85 638.94Z" fill="#00f" stroke="#0000b4" stroke-width="0.45"/><path d="M547.6 631.18L551.15 637.98L544.05 637.98Z" fill="#00f" stroke="#0000b4" stroke-width="0.45"/><path d="M548.8 630.02L552.35 636.82L545.25 636.82Z" fill="#00f" stroke="#0000b4" stroke-width="0.45"/><path d="M550 628.27L553.55 635.07L546.45 635.07Z" fill="#00f" stroke="#0000b4" stroke-width="0.45"/><path d="M551.2 626.51L554.75 633.31L547.65 633.31Z" fill="#00f" stroke="#0000b4" stroke-width="0.45"/><path d="M552.4 624.76L555.95 631.56L548.85 631.56Z" fill="#00f" stroke="#0000b4" stroke-width="0.45"/><path d="M553.6 623.01L557.15 629.81L550.05 629.81Z" fill="#00f" stroke="#0000b4" stroke-width="0.45"/><path d="M554.8 621.25L558.35 628.05L551.25 628.05Z" fill="#00f" stroke="#0000b4" stroke-width="0.45"/><path d="M556 619.5L559.55 626.3L552.45 626.3Z" fill="#00f" stroke="#0000b4" stroke-width="0.45"/><path d="M557.2 617.12L560.75 623.92L553.65 623.92Z" fill="#00f" stroke="#0000b4" stroke-width="0.45"/><path d="M558.4 614.54L561.95 621.34L554.85 621.34Z" fill="#00f" stroke="#0000b4" stroke-width="0.45"/><path d="M559.6 611.96L563.15 618.76L556.05 618.76Z" fill="#00f" stroke="#0000b4" stroke-width="0.45"/><path d="M560.8 609.38L564.35 616.18L557.25 616.18Z" fill="#00f" stroke="#0000b4" stroke-width="0.45"/><path d="M562 606.78L565.55 613.58L558.45 613.58Z" fill="#00f" stroke="#0000b4" stroke-width="0.45"/><path d="M563.2 604.13L566.75 610.93L559.65 610.93Z" fill="#00f" stroke="#0000b4" stroke-width="0.45"/><path d="M564.4 601.49L567.95 608.29L560.85 608.29Z" fill="#00f" stroke="#0000b4" stroke-width="0.45"/><path d="M565.6 598.85L569.15 605.65L562.05 605.65Z" fill="#00f" stroke="#0000b4" stroke-width="0.45"/><path d="M566.8 596.2L570.35 603L563.25 603Z" fill="#00f" stroke="#0000b4" stroke-width="0.45"/><path d="M568 593.01L571.55 599.81L564.45 599.81Z" fill="#00f" stroke="#0000b4" stroke-width="0.45"/><path d="M569.2 589.71L572.75 596.51L565.65 596.51Z" fill="#00f" stroke="#0000b4" stroke-width="0.45"/><path d="M570.4 586.41L573.95 593.21L566.85 593.21Z" fill="#00f" stroke="#0000b4" stroke-width="0.45"/><path d="M571.6 583.26L575.15 590.06L568.05 590.06Z" fill="#00f" stroke="#0000b4" stroke-width="0.45"/><path d="M572.8 580.26L576.35 587.06L569.25 587.06Z" fill="#00f" stroke="#0000b4" stroke-width="0.45"/><path d="M574 577.26L577.55 584.06L570.45 584.06Z" fill="#00f" stroke="#0000b4" stroke-width="0.45"/><path d="M575.2 572.82L578.75 579.62L571.65 579.62Z" fill="#00f" stroke="#0000b4" stroke-width="0.45"/><path d="M576.4 567.66L579.95 574.46L572.85 574.46Z" fill="#00f" stroke="#0000b4" stroke-width="0.45"/><path d="M577.6 564.15L581.15 570.95L574.05 570.95Z" fill="#00f" stroke="#0000b4" stroke-width="0.45"/><path d="M578.8 560.64L582.35 567.44L575.25 567.44Z" fill="#00f" stroke="#0000b4" stroke-width="0.45"/><path d="M580 557.14L583.55 563.94L576.45 563.94Z" fill="#00f" stroke="#0000b4" stroke-width="0.45"/><path d="M581.2 552.24L584.75 559.04L577.65 559.04Z" fill="#00f" stroke="#0000b4" stroke-width="0.45"/><path d="M582.4 547.08L585.95 553.88L578.85 553.88Z" fill="#00f" stroke="#0000b4" stroke-width="0.45"/><path d="M583.6 542.02L587.15 548.82L580.05 548.82Z" fill="#00f" stroke="#0000b4" stroke-width="0.45"/><path d="M584.8 537.7L588.35 544.5L581.25 544.5Z" fill="#00f" stroke="#0000b4" stroke-width="0.45"/><path d="M586 534.45L589.55 541.25L582.45 541.25Z" fill="#00f" stroke="#0000b4" stroke-width="0.45"/><path d="M587.2 531.19L590.75 537.99L583.65 537.99Z" fill="#00f" stroke="#0000b4" stroke-width="0.45"/><path d="M588.4 527.93L591.95 534.73L584.85 534.73Z" fill="#00f" stroke="#0000b4" stroke-width="0.45"/><path d="M589.6 522.84L593.15 529.64L586.05 529.64Z" fill="#00f" stroke="#0000b4" stroke-width="0.45"/><path d="M590.8 517.58L594.35 524.38L587.25 524.38Z" fill="#00f" stroke="#0000b4" stroke-width="0.45"/><path d="M592 514.33L595.55 521.13L588.45 521.13Z" fill="#00f" stroke="#0000b4" stroke-width="0.45"/><path d="M593.2 511.75L596.75 518.55L589.65 518.55Z" fill="#00f" stroke="#0000b4" stroke-width="0.45"/><path d="M594.4 508.32L597.95 515.12L590.85 515.12Z" fill="#00f" stroke="#0000b4" stroke-width="0.45"/><path d="M595.6 504.05L599.15 510.85L592.05 510.85Z" fill="#00f" stroke="#0000b4" stroke-width="0.45"/><path d="M596.8 499.77L600.35 506.57L593.25 506.57Z" fill="#00f" stroke="#0000b4" stroke-width="0.45"/><path d="M598 495.38L601.55 502.18L594.45 502.18Z" fill="#00f" stroke="#0000b4" stroke-width="0.45"/><path d="M599.2 490.97L602.75 497.77L595.65 497.77Z" fill="#00f" stroke="#0000b4" stroke-width="0.45"/><path d="M600.4 486.61L603.95 493.41L596.85 493.41Z" fill="#00f" stroke="#0000b4" stroke-width="0.45"/><path d="M601.6 482.41L605.15 489.21L598.05 489.21Z" fill="#00f" stroke="#0000b4" stroke-width="0.45"/><path d="M602.8 478.32L606.35 485.12L599.25 485.12Z" fill="#00f" stroke="#0000b4" stroke-width="0.45"/><path d="M604 474.55L607.55 481.35L600.45 481.35Z" fill="#00f" stroke="#0000b4" stroke-width="0.45"/><path d="M605.2 470.77L608.75 477.57L601.65 477.57Z" fill="#00f" stroke="#0000b4" stroke-width="0.45"/><path d="M606.4 467.61L609.95 474.41L602.85 474.41Z" fill="#00f" stroke="#0000b4" stroke-width="0.45"/><path d="M607.6 464.26L611.15 471.06L604.05 471.06Z" fill="#00f" stroke="#0000b4" stroke-width="0.45"/><path d="M608.3 460.76L611.85 467.56L604.75 467.56Z" fill="#00f" stroke="#0000b4" stroke-width="0.45"/></g>
<g><path d="M610.4 454.07L613.65 460.67L607.15 460.67Z" fill="#00f" stroke="#0000b4" stroke-width="0.45"/><path d="M610.4 453.97L613.65 460.57L607.15 460.57Z" fill="#00f" stroke="#0000b4" stroke-width="0.45"/></g>
<g><path d="M610.4 438.37L613.65 444.97L607.15 444.97Z" fill="#00f" stroke="#0000b4" stroke-width="0.45"/><path d="M610.77 437.02L614.02 443.62L607.52 443.62Z" fill="#00f" stroke="#0000b4" stroke-width="0.45"/><path d="M611.14 435.67L614.39 442.27L607.89 442.27Z" fill="#00f" stroke="#0000b4" stroke-width="0.45"/><path d="M611.51 434.32L614.76 440.92L608.26 440.92Z" fill="#00f" stroke="#0000b4" stroke-width="0.45"/><path d="M611.88 432.97L615.13 439.57L608.63 439.57Z" fill="#00f" stroke="#0000b4" stroke-width="0.45"/><path d="M612.25 431.62L615.5 438.22L609 438.22Z" fill="#00f" stroke="#0000b4" stroke-width="0.45"/><path d="M612.62 430.27L615.87 436.87L609.37 436.87Z" fill="#00f" stroke="#0000b4" stroke-width="0.45"/><path d="M612.99 428.92L616.24 435.52L609.74 435.52Z" fill="#00f" stroke="#0000b4" stroke-width="0.45"/><path d="M613.37 427.57L616.62 434.17L610.12 434.17Z" fill="#00f" stroke="#0000b4" stroke-width="0.45"/><path d="M613.75 426.22L617 432.82L610.5 432.82Z" fill="#00f" stroke="#0000b4" stroke-width="0.45"/><path d="M614.13 424.88L617.38 431.48L610.88 431.48Z" fill="#00f" stroke="#0000b4" stroke-width="0.45"/><path d="M614.51 423.53L617.76 430.13L611.26 430.13Z" fill="#00f" stroke="#0000b4" stroke-width="0.45"/><path d="M614.89 422.18L618.14 428.78L611.64 428.78Z" fill="#00f" stroke="#0000b4" stroke-width="0.45"/><path d="M615.27 420.83L618.52 427.43L612.02 427.43Z" fill="#00f" stroke="#0000b4" stroke-width="0.45"/><path d="M615.65 419.49L618.9 426.09L612.4 426.09Z" fill="#00f" stroke="#0000b4" stroke-width="0.45"/><path d="M615.8 418.97L619.05 425.57L612.55 425.57Z" fill="#00f" stroke="#0000b4" stroke-width="0.45"/></g>
<rect x="419.7" y="405.3" width="272" height="311.8" fill="none" stroke="#111" stroke-width="1.2"/>
<line x1="446.9" y1="717.1" x2="446.9" y2="720.6" stroke="#111" stroke-width="1.2" />
<line x1="501.3" y1="717.1" x2="501.3" y2="720.6" stroke="#111" stroke-width="1.2" />
<line x1="555.7" y1="717.1" x2="555.7" y2="720.6" stroke="#111" stroke-width="1.2" />
<line x1="610.1" y1="717.1" x2="610.1" y2="720.6" stroke="#111" stroke-width="1.2" />
<line x1="664.5" y1="717.1" x2="664.5" y2="720.6" stroke="#111" stroke-width="1.2" />
<line x1="419.7" y1="717.1" x2="419.7" y2="723.1" stroke="#111" stroke-width="1.2" />
<line x1="474.1" y1="717.1" x2="474.1" y2="723.1" stroke="#111" stroke-width="1.2" />
<line x1="528.5" y1="717.1" x2="528.5" y2="723.1" stroke="#111" stroke-width="1.2" />
<line x1="582.9" y1="717.1" x2="582.9" y2="723.1" stroke="#111" stroke-width="1.2" />
<line x1="637.3" y1="717.1" x2="637.3" y2="723.1" stroke="#111" stroke-width="1.2" />
<line x1="691.7" y1="717.1" x2="691.7" y2="723.1" stroke="#111" stroke-width="1.2" />
<line x1="416.2" y1="691.12" x2="419.7" y2="691.12" stroke="#111" stroke-width="1.2" />
<line x1="416.2" y1="639.15" x2="419.7" y2="639.15" stroke="#111" stroke-width="1.2" />
<line x1="416.2" y1="587.18" x2="419.7" y2="587.18" stroke="#111" stroke-width="1.2" />
<line x1="416.2" y1="535.22" x2="419.7" y2="535.22" stroke="#111" stroke-width="1.2" />
<line x1="416.2" y1="483.25" x2="419.7" y2="483.25" stroke="#111" stroke-width="1.2" />
<line x1="416.2" y1="431.28" x2="419.7" y2="431.28" stroke="#111" stroke-width="1.2" />
<line x1="413.7" y1="717.1" x2="419.7" y2="717.1" stroke="#111" stroke-width="1.2" />
<line x1="413.7" y1="665.13" x2="419.7" y2="665.13" stroke="#111" stroke-width="1.2" />
<line x1="413.7" y1="613.17" x2="419.7" y2="613.17" stroke="#111" stroke-width="1.2" />
<line x1="413.7" y1="561.2" x2="419.7" y2="561.2" stroke="#111" stroke-width="1.2" />
<line x1="413.7" y1="509.23" x2="419.7" y2="509.23" stroke="#111" stroke-width="1.2" />
<line x1="413.7" y1="457.27" x2="419.7" y2="457.27" stroke="#111" stroke-width="1.2" />
<line x1="413.7" y1="405.3" x2="419.7" y2="405.3" stroke="#111" stroke-width="1.2" />
<g id="t_D_x0" transform="translate(419.21,739.42) scale(0.8495,1.1304)"><text x="0" y="0" font-size="15" font-weight="bold" text-anchor="middle" fill="#000">1.2</text></g>
<g id="t_D_x1" transform="translate(473.61,739.42) scale(0.8495,1.1304)"><text x="0" y="0" font-size="15" font-weight="bold" text-anchor="middle" fill="#000">1.3</text></g>
<g id="t_D_x2" transform="translate(528.01,739.42) scale(0.8495,1.1304)"><text x="0" y="0" font-size="15" font-weight="bold" text-anchor="middle" fill="#000">1.4</text></g>
<g id="t_D_x3" transform="translate(582.41,739.42) scale(0.8495,1.1304)"><text x="0" y="0" font-size="15" font-weight="bold" text-anchor="middle" fill="#000">1.5</text></g>
<g id="t_D_x4" transform="translate(636.81,739.42) scale(0.8495,1.1304)"><text x="0" y="0" font-size="15" font-weight="bold" text-anchor="middle" fill="#000">1.6</text></g>
<g id="t_D_x5" transform="translate(691.21,739.42) scale(0.8495,1.1304)"><text x="0" y="0" font-size="15" font-weight="bold" text-anchor="middle" fill="#000">1.7</text></g>
<g id="t_D_y0" transform="translate(411.03,721.62) scale(0.9132,1.0083)"><text x="0" y="0" font-size="15" font-weight="bold" text-anchor="end" fill="#000">0.0</text></g>
<g id="t_D_y1" transform="translate(411.03,669.65) scale(0.9132,1.0083)"><text x="0" y="0" font-size="15" font-weight="bold" text-anchor="end" fill="#000">0.3</text></g>
<g id="t_D_y2" transform="translate(411.03,617.69) scale(0.9132,1.0083)"><text x="0" y="0" font-size="15" font-weight="bold" text-anchor="end" fill="#000">0.6</text></g>
<g id="t_D_y3" transform="translate(411.03,565.72) scale(0.9132,1.0083)"><text x="0" y="0" font-size="15" font-weight="bold" text-anchor="end" fill="#000">0.9</text></g>
<g id="t_D_y4" transform="translate(411.03,513.75) scale(0.9132,1.0083)"><text x="0" y="0" font-size="15" font-weight="bold" text-anchor="end" fill="#000">1.2</text></g>
<g id="t_D_y5" transform="translate(411.03,461.79) scale(0.9132,1.0083)"><text x="0" y="0" font-size="15" font-weight="bold" text-anchor="end" fill="#000">1.5</text></g>
<g id="t_D_y6" transform="translate(411.03,409.82) scale(0.9132,1.0083)"><text x="0" y="0" font-size="15" font-weight="bold" text-anchor="end" fill="#000">1.8</text></g>
<g id="t_D_tag" transform="translate(436.4,424.09) scale(0.9115,0.9690)"><text x="0" y="0" font-size="15" font-weight="bold" text-anchor="start" fill="#000">(d)</text></g>
<g id="t_D_temp" transform="translate(429.73,466.06) scale(0.9265,1.0459)"><text x="0" y="0" font-size="14.5" font-weight="bold" text-anchor="start" fill="#000">430 <tspan font-size="8.5" dy="-7">o</tspan><tspan dy="7">C</tspan></text></g>
<rect x="422.1" y="474.5" width="74.8" height="53.8" fill="none" stroke="#444" stroke-width="1"/>
<rect x="436.3" y="481.75" width="4.8" height="5.7" fill="#000"/>
<ellipse cx="438.8" cy="502.1" rx="2.9" ry="3.25" fill="#f00" stroke="#c80000" stroke-width="0.45"/>
<path d="M438.6 514.97L441.85 521.57L435.35 521.57Z" fill="#00f" stroke="#0000b4" stroke-width="0.45"/>
<g id="t_D_l1" transform="translate(455.03,488.91) scale(0.8869,0.9413)"><text x="0" y="0" font-size="14" font-weight="bold" text-anchor="start" fill="#000">30 min</text></g>
<g id="t_D_l2" transform="translate(455.03,506.51) scale(0.8869,0.9413)"><text x="0" y="0" font-size="14" font-weight="bold" text-anchor="start" fill="#000">60 min</text></g>
<g id="t_D_l3" transform="translate(455.03,524.11) scale(0.8869,0.9413)"><text x="0" y="0" font-size="14" font-weight="bold" text-anchor="start" fill="#000">90 min</text></g>
<g id="t_D_xl" transform="translate(555.86,770.11) scale(0.9220,0.9935)"><text x="0" y="0" font-size="18.5" font-weight="bold" text-anchor="middle" fill="#000">h&#957; (eV)</text></g>
<g id="t_D_yl" transform="translate(381.03,575.65) rotate(-90) scale(1.0549,0.9975)"><text x="0" y="0" font-size="18.3" font-weight="bold" text-anchor="middle" fill="#000"><tspan font-size="13.3" font-weight="normal">(</tspan>F<tspan font-size="13.3" font-weight="normal">(</tspan>R<tspan font-size="11" font-weight="normal" dy="4.7">&#8734;</tspan><tspan font-size="13.3" font-weight="normal" dy="-4.7">)</tspan>h&#957;<tspan font-size="13.3" font-weight="normal">)</tspan><tspan font-size="10" dy="-6.9">2</tspan></text></g>
</svg></body></html>
